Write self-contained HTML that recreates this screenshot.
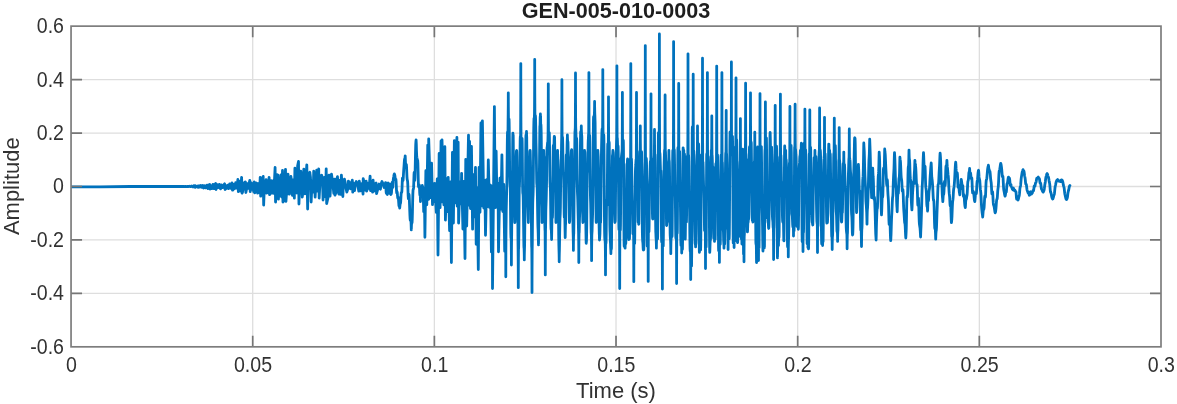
<!DOCTYPE html>
<html lang="en"><head><meta charset="utf-8"><title>GEN-005-010-0003</title>
<style>html,body{margin:0;padding:0;background:#fff}svg{display:block}</style></head>
<body>
<svg width="1177" height="404" viewBox="0 0 1177 404">
<rect width="1177" height="404" fill="#fff"/>
<path d="M252.71 26.14V346.83M71.05 79.59H1161.00M434.37 26.14V346.83M71.05 133.04H1161.00M616.02 26.14V346.83M71.05 186.49H1161.00M797.68 26.14V346.83M71.05 239.93H1161.00M979.34 26.14V346.83M71.05 293.38H1161.00" stroke="#dedede" stroke-width="1.30" fill="none"/>
<clipPath id="c"><rect x="71.05" y="26.14" width="1089.95" height="320.69"/></clipPath>
<path clip-path="url(#c)" d="M71.35 186.88 L100.00 186.78 L130.00 186.48 L184.00 186.48 L184.00 186.44 L184.83 186.54 L185.61 186.35 L186.54 186.56 L187.55 186.36 L188.52 186.62 L189.31 186.21 L190.47 186.69 L191.34 186.05 L192.56 186.91 L193.51 185.79 L194.28 187.12 L194.90 185.60 L195.35 187.30 L195.98 186.98 L197.14 186.01 L198.18 187.34 L199.12 185.69 L199.90 187.03 L200.75 185.50 L201.72 187.34 L202.76 185.57 L203.66 187.96 L204.76 185.67 L205.80 187.85 L206.98 185.08 L207.88 188.61 L208.69 185.32 L209.70 184.40 L210.15 189.10 L210.81 185.64 L211.89 188.61 L212.93 184.30 L213.84 188.61 L214.89 184.50 L215.60 183.40 L216.05 189.50 L217.09 184.64 L218.17 187.64 L219.27 184.42 L220.52 188.90 L221.41 184.90 L222.49 187.58 L223.47 185.27 L224.60 183.80 L225.05 189.50 L226.29 188.28 L227.47 185.29 L228.45 188.69 L229.64 183.84 L230.82 188.30 L232.00 182.90 L232.45 190.20 L232.97 189.96 L233.80 184.41 L234.66 188.59 L235.66 182.61 L236.54 188.20 L237.50 182.70 L237.90 179.40 L238.35 191.70 L239.63 181.41 L240.68 191.06 L241.60 177.40 L242.05 193.20 L242.60 191.91 L243.75 182.79 L244.70 188.99 L245.40 181.90 L245.85 192.50 L246.55 189.18 L247.38 183.66 L248.16 188.42 L248.98 184.13 L249.80 180.40 L250.25 191.70 L251.10 182.60 L251.93 189.31 L252.85 183.70 L253.66 191.59 L254.30 181.90 L254.75 192.90 L255.90 189.39 L256.70 183.03 L257.58 193.14 L258.42 183.68 L259.64 192.51 L260.20 177.40 L260.65 196.20 L261.23 194.66 L262.47 178.37 L263.20 176.40 L263.65 205.10 L264.50 182.68 L265.63 192.03 L266.10 179.70 L266.55 193.20 L267.64 192.44 L269.10 177.40 L269.55 194.70 L270.03 193.98 L271.15 180.57 L272.16 193.03 L272.92 180.86 L273.81 193.39 L275.10 167.50 L275.55 202.10 L277.13 174.58 L278.00 175.20 L278.45 199.20 L278.92 180.87 L279.78 196.09 L280.98 174.79 L281.97 197.31 L282.50 170.50 L282.95 202.10 L284.20 199.43 L285.50 169.30 L285.95 201.40 L287.47 179.34 L288.00 174.10 L288.62 193.92 L289.45 194.10 L290.90 176.40 L291.63 181.62 L292.45 195.33 L293.61 179.76 L294.35 198.10 L294.90 168.20 L295.85 175.59 L296.87 193.00 L297.63 165.76 L298.50 161.40 L298.95 204.00 L299.92 175.28 L300.80 171.20 L302.25 197.10 L302.86 192.73 L303.80 169.20 L304.86 193.81 L306.07 175.26 L306.80 164.80 L307.65 209.00 L308.25 175.95 L309.80 172.20 L310.47 177.26 L311.15 202.00 L312.07 181.25 L313.22 192.01 L313.70 171.20 L314.21 174.91 L315.15 197.10 L316.25 175.91 L316.70 170.20 L317.39 191.09 L318.70 168.80 L319.15 198.10 L320.31 177.14 L321.60 175.10 L322.41 177.90 L323.05 200.00 L324.51 177.28 L325.53 196.56 L326.20 168.80 L326.65 203.60 L327.94 198.02 L329.00 175.10 L330.05 196.10 L330.86 181.43 L331.50 174.10 L332.70 182.43 L333.78 193.33 L334.50 179.10 L334.95 195.10 L336.09 192.35 L336.91 178.70 L337.50 176.70 L338.15 190.11 L338.95 194.10 L339.37 180.48 L340.37 194.32 L341.40 175.10 L342.85 196.50 L343.42 182.51 L344.40 179.10 L345.09 181.87 L346.06 188.64 L346.85 192.10 L347.98 188.65 L348.40 181.10 L349.22 182.10 L350.46 188.77 L351.34 184.20 L352.30 180.10 L352.75 192.10 L353.29 182.97 L354.50 190.69 L355.38 184.19 L356.30 181.50 L357.69 184.42 L358.75 191.10 L359.30 181.10 L360.65 190.86 L361.80 183.74 L363.05 194.10 L363.20 178.70 L364.16 182.28 L365.08 190.11 L366.20 181.10 L366.65 191.10 L367.11 189.54 L367.98 183.34 L368.81 188.40 L369.66 181.36 L370.10 176.10 L370.56 190.60 L371.46 181.12 L372.55 192.10 L373.10 180.10 L373.81 191.23 L374.84 184.35 L376.10 183.00 L376.55 193.70 L377.59 189.90 L379.10 184.00 L379.76 188.66 L380.45 189.20 L381.01 184.26 L382.00 181.50 L383.24 184.07 L384.16 187.52 L384.98 185.27 L385.16 185.65 L385.34 184.73 L385.52 182.67 L385.71 182.71 L385.89 186.34 L386.07 190.79 L386.25 192.99 L386.44 193.27 L386.62 193.45 L386.80 193.80 L387.00 193.52 L387.20 193.87 L387.40 194.46 L387.60 192.73 L387.80 187.90 L388.00 183.51 L388.20 182.99 L388.40 184.86 L388.60 185.53 L388.80 184.58 L389.00 183.90 L389.19 184.26 L389.38 183.95 L389.57 184.24 L389.76 187.19 L389.95 191.42 L390.14 193.61 L390.33 193.44 L390.52 193.28 L390.71 193.96 L390.90 194.50 L391.09 194.10 L391.28 193.75 L391.47 192.83 L391.66 190.23 L391.84 186.14 L392.03 182.73 L392.22 182.33 L392.41 184.84 L392.60 187.43 L392.79 187.32 L392.98 184.42 L393.17 180.93 L393.36 178.72 L393.54 177.68 L393.73 176.70 L393.92 175.44 L394.11 174.42 L394.30 173.90 L394.50 174.36 L394.70 174.86 L394.90 175.79 L395.10 177.42 L395.30 179.15 L395.50 179.87 L395.70 179.44 L395.90 179.31 L396.10 181.44 L396.30 185.87 L396.50 190.47 L396.70 192.86 L396.90 192.63 L397.10 191.86 L397.30 192.79 L397.50 195.37 L397.70 197.65 L397.90 198.14 L398.10 197.42 L398.30 197.43 L398.50 199.43 L398.70 202.70 L398.90 205.36 L399.10 206.30 L399.30 206.34 L399.50 206.79 L399.70 208.10 L399.90 206.13 L400.09 204.42 L400.29 203.58 L400.49 203.29 L400.68 201.58 L400.88 198.19 L401.07 194.62 L401.27 192.65 L401.47 192.41 L401.66 192.53 L401.86 191.23 L402.06 187.38 L402.25 181.89 L402.45 178.10 L402.65 178.12 L402.84 180.01 L403.04 180.40 L403.24 178.21 L403.43 174.66 L403.63 171.21 L403.82 168.52 L404.02 166.06 L404.22 163.16 L404.41 160.32 L404.61 158.95 L404.81 159.11 L405.00 158.64 L405.20 155.90 L405.40 160.43 L405.59 164.96 L405.79 167.38 L405.99 166.17 L406.18 164.42 L406.38 164.51 L406.58 167.45 L406.77 172.37 L406.97 176.87 L407.17 179.30 L407.36 180.11 L407.56 180.97 L407.76 183.81 L407.95 189.44 L408.15 195.77 L408.35 198.73 L408.55 197.49 L408.74 195.09 L408.94 194.13 L409.14 195.29 L409.33 199.11 L409.53 204.60 L409.73 210.19 L409.92 215.08 L410.12 218.72 L410.32 220.24 L410.51 219.11 L410.71 217.21 L410.91 219.24 L411.10 224.29 L411.30 229.90 L411.49 224.78 L411.68 222.71 L411.88 222.99 L412.07 222.63 L412.26 219.25 L412.45 212.06 L412.64 202.49 L412.84 194.40 L413.03 190.37 L413.22 189.33 L413.41 189.17 L413.60 187.38 L413.80 181.84 L413.99 175.10 L414.18 172.47 L414.37 174.67 L414.56 178.45 L414.76 180.33 L414.95 177.75 L415.14 170.64 L415.33 161.29 L415.52 152.23 L415.72 144.91 L415.91 141.66 L416.10 139.80 L416.30 143.77 L416.50 150.95 L416.70 155.83 L416.90 157.41 L417.10 158.47 L417.30 159.46 L417.50 159.94 L417.70 160.45 L417.90 163.61 L418.10 171.68 L418.30 181.53 L418.50 186.31 L418.70 186.94 L418.90 187.25 L419.10 186.07 L419.30 184.77 L419.50 187.60 L419.70 192.94 L419.90 195.01 L420.10 193.81 L420.30 195.64 L420.50 201.60 L420.68 188.47 L420.86 189.53 L421.04 193.20 L421.22 196.69 L421.40 196.13 L421.58 191.34 L421.76 187.36 L421.94 186.51 L422.12 186.37 L422.30 185.40 L422.50 186.97 L422.70 186.75 L422.90 188.23 L423.10 190.66 L423.30 195.15 L423.50 204.05 L423.70 211.60 L423.90 211.61 L424.10 205.85 L424.30 201.36 L424.50 203.41 L424.70 218.39 L424.90 237.30 L425.85 170.70 L426.80 204.81 L427.75 145.10 L428.70 199.28 L428.70 138.90 L430.60 197.68 L431.55 163.13 L432.50 204.60 L433.45 184.59 L434.40 201.60 L434.60 183.40 L436.30 212.35 L437.25 178.79 L438.00 255.00 L439.15 153.50 L440.10 207.67 L441.05 141.00 L442.00 201.95 L442.00 139.80 L443.90 204.87 L444.85 146.76 L445.40 220.10 L446.75 178.82 L447.70 211.60 L448.20 177.40 L449.60 230.60 L450.55 181.90 L451.40 262.60 L452.45 152.36 L453.40 223.04 L454.35 140.60 L455.30 202.90 L456.90 137.50 L457.20 206.20 L458.15 142.24 L458.60 223.10 L460.05 182.20 L461.00 203.74 L461.60 173.40 L462.90 229.03 L463.85 181.48 L465.00 258.60 L465.75 159.33 L466.70 226.02 L468.50 135.20 L468.60 205.00 L469.55 141.35 L470.50 208.60 L471.45 146.33 L472.60 229.20 L473.35 174.68 L474.30 216.92 L475.50 167.40 L476.20 244.28 L477.15 187.98 L478.30 269.50 L479.05 167.40 L480.00 212.24 L480.95 122.98 L481.90 205.78 L482.40 120.80 L483.80 208.10 L484.75 180.40 L485.50 235.30 L486.65 179.73 L487.60 206.60 L488.30 160.00 L489.50 207.40 L490.45 185.25 L491.40 251.92 L492.35 186.02 L492.50 288.50 L494.40 106.60 L495.20 207.68 L496.15 151.22 L497.10 207.14 L498.05 183.40 L498.50 251.80 L499.95 178.21 L500.90 209.16 L501.90 154.80 L502.80 211.60 L503.75 184.52 L504.70 251.29 L504.71 247.39 L504.75 243.49 L504.82 239.59 L504.92 235.68 L505.03 232.35 L505.14 228.45 L505.25 225.08 L505.36 225.49 L505.47 225.17 L505.58 229.39 L505.62 234.14 L505.66 238.88 L505.69 243.62 L505.72 248.36 L505.75 253.10 L505.76 257.84 L505.78 262.58 L505.79 267.32 L505.80 272.06 L505.80 276.80 L505.80 272.06 L505.81 267.32 L505.82 262.58 L505.84 257.84 L505.86 253.10 L505.88 248.36 L505.91 243.62 L505.94 238.88 L505.98 234.14 L506.02 229.39 L506.09 224.17 L506.17 218.12 L506.24 210.38 L506.31 206.96 L506.39 203.40 L506.46 199.91 L506.54 196.77 L506.61 194.04 L506.68 191.48 L506.76 188.66 L506.83 185.20 L506.90 180.75 L506.98 175.11 L507.05 168.36 L507.12 160.90 L507.20 153.26 L507.27 146.07 L507.34 139.94 L507.42 135.40 L507.49 132.76 L507.56 132.00 L507.64 132.80 L507.71 135.13 L507.79 139.44 L507.86 142.79 L507.93 137.34 L508.01 129.74 L508.08 121.01 L508.15 116.31 L508.20 111.61 L508.25 106.91 L508.28 102.20 L508.29 97.50 L508.30 92.80 L508.31 97.50 L508.32 102.20 L508.36 106.91 L508.40 111.61 L508.45 116.31 L508.52 121.01 L508.61 124.30 L508.70 125.26 L508.79 124.17 L508.87 121.58 L508.96 119.33 L509.05 119.07 L509.14 122.10 L509.23 127.23 L509.32 134.38 L509.41 143.10 L509.50 152.60 L509.58 161.85 L509.67 169.94 L509.76 176.24 L509.85 180.66 L509.94 183.49 L510.03 185.13 L510.12 185.83 L510.20 186.21 L510.29 188.60 L510.38 195.38 L510.47 205.19 L510.56 215.14 L510.65 223.55 L510.74 229.80 L510.83 233.99 L510.91 236.55 L511.00 238.20 L511.09 237.92 L511.18 238.22 L511.25 242.70 L511.30 247.18 L511.34 251.66 L511.38 256.14 L511.39 260.62 L511.40 265.10 L511.41 260.62 L511.42 256.14 L511.45 251.66 L511.50 247.18 L511.55 242.70 L511.62 238.22 L511.68 232.72 L511.74 225.11 L511.80 216.15 L511.86 211.50 L511.92 207.07 L511.98 203.12 L512.05 199.77 L512.11 196.97 L512.17 194.53 L512.23 192.28 L512.29 190.04 L512.35 187.30 L512.41 182.93 L512.47 176.01 L512.53 167.21 L512.59 158.07 L512.65 149.74 L512.71 142.90 L512.77 137.84 L512.84 134.60 L512.90 133.03 L512.96 134.87 L513.02 137.46 L513.08 138.61 L513.14 137.82 L513.20 135.00 L513.28 141.04 L513.35 150.07 L513.43 156.50 L513.51 159.94 L513.59 165.11 L513.66 169.87 L513.74 173.44 L513.82 175.71 L513.90 177.01 L513.97 177.96 L514.05 179.16 L514.13 180.89 L514.20 183.06 L514.28 186.39 L514.36 192.79 L514.44 201.54 L514.51 209.81 L514.59 215.99 L514.67 219.87 L514.75 221.95 L514.82 222.52 L514.90 222.48 L514.99 221.04 L515.08 215.64 L515.17 209.87 L515.26 202.32 L515.35 193.99 L515.44 188.01 L515.53 184.85 L515.62 180.75 L515.71 175.98 L515.79 172.16 L515.88 169.37 L515.97 166.82 L516.06 163.72 L516.15 159.82 L516.24 155.49 L516.33 152.77 L516.42 151.40 L516.51 150.54 L516.60 150.48 L516.66 150.51 L516.72 150.84 L516.78 151.75 L516.84 153.01 L516.90 155.85 L516.96 161.85 L517.01 169.19 L517.07 177.01 L517.13 183.43 L517.19 186.51 L517.25 187.58 L517.31 189.57 L517.37 192.75 L517.43 196.10 L517.49 199.05 L517.55 201.60 L517.61 204.07 L517.67 206.88 L517.72 210.40 L517.78 214.83 L517.84 220.12 L517.90 225.96 L517.96 235.66 L518.02 243.81 L518.08 248.70 L518.13 253.58 L518.18 258.45 L518.21 263.33 L518.25 268.20 L518.27 273.08 L518.29 277.95 L518.30 282.83 L518.30 287.70 L518.30 282.83 L518.31 277.95 L518.33 273.08 L518.35 268.20 L518.39 263.33 L518.42 258.45 L518.47 253.58 L518.52 248.70 L518.59 248.51 L518.66 247.20 L518.73 242.41 L518.80 237.21 L518.88 231.30 L518.95 224.40 L519.02 216.48 L519.09 207.74 L519.16 198.87 L519.23 191.32 L519.30 187.10 L519.37 186.46 L519.44 186.26 L519.51 184.26 L519.59 180.87 L519.66 176.99 L519.73 172.93 L519.80 168.64 L519.87 163.93 L519.94 158.71 L520.01 153.10 L520.08 147.41 L520.15 142.06 L520.22 138.62 L520.30 137.17 L520.37 136.38 L520.44 136.22 L520.51 136.32 L520.58 136.18 L520.61 131.34 L520.63 126.50 L520.66 121.67 L520.68 116.83 L520.70 111.99 L520.72 107.15 L520.74 102.31 L520.75 97.47 L520.76 92.63 L520.78 87.79 L520.78 82.96 L520.79 78.12 L520.80 73.28 L520.80 68.44 L520.80 63.60 L520.80 68.44 L520.80 73.28 L520.81 78.12 L520.82 82.96 L520.82 87.79 L520.84 92.63 L520.85 97.47 L520.86 102.31 L520.88 107.15 L520.90 111.99 L520.92 116.83 L520.94 121.67 L520.97 126.50 L520.99 131.34 L521.02 136.18 L521.13 140.40 L521.23 146.20 L521.34 152.70 L521.44 154.22 L521.55 153.00 L521.65 150.50 L521.76 147.14 L521.86 142.80 L521.97 139.24 L522.08 138.43 L522.18 141.88 L522.29 150.10 L522.39 162.31 L522.50 176.00 L522.60 186.41 L522.71 191.36 L522.81 193.19 L522.92 193.73 L523.02 194.32 L523.13 196.25 L523.24 200.34 L523.34 206.67 L523.45 214.56 L523.55 222.94 L523.66 230.87 L523.76 238.16 L523.87 245.33 L523.97 247.74 L524.08 248.32 L524.20 252.18 L524.28 256.04 L524.30 259.90 L524.32 256.04 L524.40 252.18 L524.52 248.32 L524.58 246.35 L524.65 242.55 L524.71 235.26 L524.77 229.53 L524.83 223.86 L524.90 218.57 L524.96 213.89 L525.02 209.84 L525.09 206.26 L525.15 202.82 L525.21 199.23 L525.27 195.37 L525.34 191.48 L525.40 187.83 L525.46 183.57 L525.53 177.07 L525.59 168.62 L525.65 159.78 L525.71 151.76 L525.78 145.13 L525.84 140.08 L525.90 136.51 L525.97 134.94 L526.03 135.70 L526.09 136.54 L526.15 137.27 L526.22 137.64 L526.28 137.43 L526.40 135.42 L526.48 133.41 L526.50 131.40 L526.52 133.41 L526.60 135.42 L526.72 137.43 L526.79 145.01 L526.87 154.27 L526.94 158.90 L527.01 159.58 L527.09 161.66 L527.16 164.21 L527.23 167.20 L527.31 170.88 L527.38 175.14 L527.45 179.31 L527.53 182.76 L527.60 186.35 L527.67 191.49 L527.75 197.43 L527.82 202.73 L527.89 206.89 L527.97 210.17 L528.04 213.00 L528.11 215.59 L528.19 218.17 L528.26 220.52 L528.33 222.48 L528.43 217.63 L528.53 207.09 L528.62 199.42 L528.72 193.67 L528.82 190.62 L528.91 189.78 L529.01 190.21 L529.11 190.94 L529.20 190.84 L529.30 188.99 L529.39 184.60 L529.49 176.84 L529.59 167.32 L529.68 158.94 L529.78 153.05 L529.88 151.00 L529.97 151.00 L530.07 151.09 L530.17 150.48 L530.23 151.86 L530.30 154.40 L530.36 157.50 L530.42 159.50 L530.49 161.82 L530.55 165.71 L530.62 169.13 L530.68 171.93 L530.75 174.18 L530.81 176.16 L530.88 178.23 L530.94 180.61 L531.01 183.16 L531.07 185.28 L531.13 187.21 L531.20 191.63 L531.26 199.99 L531.33 210.32 L531.39 220.47 L531.46 229.32 L531.52 236.47 L531.59 241.90 L531.65 246.13 L531.72 247.37 L531.78 247.30 L531.82 251.83 L531.86 256.36 L531.89 260.89 L531.92 265.42 L531.95 269.95 L531.96 274.48 L531.98 279.01 L531.99 283.54 L532.00 288.07 L532.00 292.60 L532.00 288.07 L532.01 283.54 L532.02 279.01 L532.04 274.48 L532.05 269.95 L532.08 265.42 L532.11 260.89 L532.14 256.36 L532.18 251.83 L532.22 247.30 L532.29 243.86 L532.35 238.90 L532.42 230.51 L532.49 221.79 L532.55 216.17 L532.62 211.02 L532.69 206.64 L532.75 203.21 L532.82 200.69 L532.88 198.88 L532.95 197.45 L533.02 196.01 L533.08 194.26 L533.15 192.04 L533.22 189.12 L533.28 184.59 L533.35 177.24 L533.42 167.59 L533.48 157.37 L533.55 147.86 L533.62 139.67 L533.68 133.05 L533.75 127.98 L533.82 124.27 L533.88 121.65 L533.95 119.78 L534.01 118.38 L534.08 118.50 L534.15 119.77 L534.21 120.78 L534.28 120.18 L534.35 118.34 L534.41 115.99 L534.48 113.25 L534.52 108.36 L534.55 103.48 L534.58 98.59 L534.61 93.70 L534.63 88.82 L534.65 83.93 L534.67 79.05 L534.68 74.16 L534.69 69.27 L534.70 64.39 L534.70 59.50 L534.70 64.39 L534.71 69.27 L534.72 74.16 L534.73 79.05 L534.75 83.93 L534.77 88.82 L534.79 93.70 L534.82 98.59 L534.85 103.48 L534.88 108.36 L534.92 113.25 L535.03 115.23 L535.14 115.93 L535.25 115.81 L535.35 115.49 L535.46 116.24 L535.57 118.65 L535.68 124.08 L535.79 130.88 L535.90 137.30 L536.00 142.83 L536.11 147.64 L536.22 152.42 L536.33 157.94 L536.44 164.62 L536.55 172.02 L536.66 178.80 L536.76 183.11 L536.87 184.57 L536.98 185.24 L537.09 186.80 L537.20 189.44 L537.31 193.35 L537.42 198.86 L537.52 205.64 L537.63 212.68 L537.74 219.03 L537.85 224.04 L537.96 227.41 L538.07 229.36 L538.17 232.57 L538.28 237.35 L538.39 240.92 L538.50 244.90 L538.55 241.15 L538.61 237.86 L538.66 232.53 L538.71 228.15 L538.76 224.37 L538.81 219.86 L538.87 214.81 L538.92 209.51 L538.97 204.27 L539.02 199.33 L539.08 194.76 L539.13 190.53 L539.18 186.56 L539.24 182.80 L539.29 179.15 L539.34 175.41 L539.39 171.42 L539.44 166.99 L539.50 162.05 L539.55 156.62 L539.60 150.82 L539.65 144.87 L539.71 139.09 L539.76 133.79 L539.81 129.26 L539.87 126.08 L539.92 125.97 L539.97 126.39 L540.02 126.00 L540.07 123.90 L540.13 121.17 L540.18 117.75 L540.30 116.50 L540.38 115.25 L540.40 114.00 L540.42 115.25 L540.50 116.50 L540.62 117.75 L540.67 122.02 L540.72 125.43 L540.78 127.56 L540.83 126.08 L540.88 124.37 L540.93 124.67 L540.99 125.65 L541.04 126.80 L541.09 128.19 L541.14 129.98 L541.20 132.41 L541.25 135.82 L541.30 140.47 L541.35 146.59 L541.41 154.21 L541.46 163.12 L541.51 172.67 L541.56 181.58 L541.61 188.64 L541.67 194.14 L541.72 198.80 L541.77 202.58 L541.82 205.29 L541.88 206.95 L541.93 212.46 L541.98 217.05 L542.03 222.48 L542.12 214.02 L542.21 204.81 L542.29 203.89 L542.38 202.76 L542.46 199.88 L542.55 195.25 L542.64 190.24 L542.72 184.58 L542.81 175.83 L542.89 166.50 L542.98 159.51 L543.06 155.29 L543.15 153.04 L543.24 151.76 L543.32 150.82 L543.41 151.60 L543.49 152.92 L543.58 152.37 L543.67 150.48 L543.74 153.33 L543.81 156.57 L543.88 156.73 L543.95 156.08 L544.02 157.94 L544.09 160.98 L544.16 165.69 L544.23 172.04 L544.30 179.01 L544.37 184.97 L544.44 190.90 L544.51 198.75 L544.59 206.93 L544.66 213.76 L544.73 218.86 L544.80 222.65 L544.87 225.73 L544.94 228.60 L545.01 230.33 L545.08 230.30 L545.13 235.25 L545.17 240.21 L545.20 245.17 L545.23 250.12 L545.26 255.08 L545.28 260.03 L545.29 264.99 L545.30 269.94 L545.30 274.90 L545.30 269.94 L545.31 264.99 L545.32 260.03 L545.34 255.08 L545.37 250.12 L545.40 245.17 L545.43 240.21 L545.47 235.25 L545.52 230.30 L545.62 226.29 L545.72 219.50 L545.83 211.21 L545.93 207.47 L546.03 204.60 L546.13 201.79 L546.24 198.15 L546.34 193.61 L546.44 189.38 L546.54 184.19 L546.65 174.07 L546.75 162.75 L546.85 154.32 L546.95 149.58 L547.06 147.64 L547.16 147.04 L547.26 146.53 L547.36 145.50 L547.47 144.02 L547.57 142.57 L547.67 143.46 L547.77 144.64 L547.88 142.15 L547.98 137.71 L548.08 133.28 L548.12 128.33 L548.16 123.38 L548.19 118.44 L548.22 113.49 L548.25 108.54 L548.26 103.59 L548.28 98.64 L548.29 93.70 L548.30 88.75 L548.30 83.80 L548.30 88.75 L548.31 93.70 L548.32 98.64 L548.34 103.59 L548.35 108.54 L548.38 113.49 L548.41 118.44 L548.44 123.38 L548.48 128.33 L548.52 133.28 L548.63 134.19 L548.75 134.81 L548.86 135.02 L548.98 134.47 L549.09 132.74 L549.20 132.46 L549.32 133.74 L549.43 137.50 L549.55 144.66 L549.66 154.92 L549.77 166.46 L549.89 176.35 L550.00 182.11 L550.12 184.41 L550.23 185.76 L550.35 187.86 L550.46 192.08 L550.57 199.31 L550.69 208.69 L550.80 217.86 L550.92 224.80 L551.03 228.61 L551.14 229.51 L551.26 228.59 L551.37 231.10 L551.49 234.25 L551.60 239.50 L551.70 233.14 L551.81 226.55 L551.91 219.62 L552.02 217.72 L552.12 216.71 L552.22 216.78 L552.33 217.47 L552.43 217.55 L552.53 215.32 L552.64 209.30 L552.74 198.99 L552.85 185.76 L552.95 172.44 L553.05 160.64 L553.16 151.81 L553.26 146.83 L553.37 145.34 L553.47 145.98 L553.57 147.04 L553.68 147.20 L553.78 145.99 L553.88 145.76 L553.99 144.31 L554.09 140.75 L554.20 137.85 L554.30 136.30 L554.37 136.94 L554.45 136.92 L554.52 136.79 L554.60 137.57 L554.67 141.95 L554.75 149.46 L554.82 159.04 L554.89 169.57 L554.97 178.99 L555.04 185.27 L555.12 188.38 L555.19 189.44 L555.27 189.32 L555.34 188.76 L555.41 188.36 L555.49 188.62 L555.56 190.12 L555.64 193.48 L555.71 198.65 L555.78 206.91 L555.86 216.39 L555.93 222.48 L556.02 217.74 L556.11 213.31 L556.19 211.46 L556.28 209.83 L556.36 208.26 L556.45 206.08 L556.54 202.29 L556.62 196.30 L556.71 188.69 L556.79 181.08 L556.88 174.34 L556.96 168.74 L557.05 164.73 L557.14 162.30 L557.22 160.90 L557.31 161.29 L557.39 161.21 L557.48 155.70 L557.57 150.48 L557.62 153.96 L557.68 157.22 L557.74 159.35 L557.79 159.51 L557.85 159.78 L557.91 162.20 L557.96 164.52 L558.02 166.64 L558.08 168.65 L558.13 170.84 L558.19 173.58 L558.25 177.30 L558.30 182.34 L558.36 188.83 L558.41 196.57 L558.47 205.05 L558.53 213.69 L558.58 221.91 L558.64 229.16 L558.70 235.08 L558.75 239.47 L558.81 242.42 L558.87 245.57 L558.92 247.31 L558.98 249.63 L559.10 253.69 L559.18 257.74 L559.20 261.80 L559.22 257.74 L559.30 253.69 L559.42 249.63 L559.50 244.99 L559.58 240.39 L559.66 233.30 L559.74 229.40 L559.82 225.36 L559.90 221.65 L559.99 218.70 L560.07 216.63 L560.15 215.16 L560.23 213.63 L560.31 211.23 L560.39 207.18 L560.47 201.19 L560.55 193.83 L560.63 186.71 L560.71 180.96 L560.79 175.91 L560.87 171.10 L560.95 166.83 L561.03 163.25 L561.12 160.16 L561.20 157.19 L561.28 155.21 L561.36 153.85 L561.44 151.65 L561.52 145.73 L561.60 141.00 L561.68 137.84 L561.72 133.00 L561.75 128.15 L561.78 123.31 L561.80 118.46 L561.83 113.62 L561.85 108.77 L561.86 103.93 L561.88 99.08 L561.89 94.24 L561.89 89.39 L561.90 84.55 L561.90 79.70 L561.90 84.55 L561.91 89.39 L561.91 94.24 L561.92 99.08 L561.94 103.93 L561.95 108.77 L561.97 113.62 L562.00 118.46 L562.02 123.31 L562.05 128.15 L562.08 133.00 L562.12 137.84 L562.24 137.45 L562.37 136.81 L562.49 137.20 L562.61 139.16 L562.74 143.77 L562.86 152.80 L562.98 161.99 L563.11 168.91 L563.23 172.44 L563.35 173.31 L563.48 173.39 L563.60 174.91 L563.72 179.47 L563.84 187.63 L563.97 198.51 L564.09 208.56 L564.21 214.91 L564.34 217.31 L564.46 217.21 L564.58 216.56 L564.71 216.77 L564.83 218.21 L564.95 224.56 L565.08 231.35 L565.20 237.60 L565.28 232.43 L565.36 228.60 L565.44 225.32 L565.52 224.75 L565.60 223.15 L565.68 219.71 L565.75 213.83 L565.83 205.33 L565.91 194.59 L565.99 182.65 L566.07 171.50 L566.15 162.78 L566.23 157.24 L566.31 154.90 L566.39 155.10 L566.47 156.71 L566.55 158.41 L566.63 159.17 L566.70 158.41 L566.78 156.15 L566.86 154.92 L566.94 153.05 L567.02 148.83 L567.10 144.38 L567.18 141.08 L567.30 139.06 L567.38 137.03 L567.40 135.00 L567.42 137.03 L567.50 139.06 L567.62 141.08 L567.70 141.40 L567.79 141.37 L567.87 141.56 L567.96 142.30 L568.04 145.87 L568.13 150.07 L568.21 153.77 L568.30 156.55 L568.38 158.61 L568.47 160.82 L568.55 164.33 L568.64 169.95 L568.72 177.31 L568.81 183.85 L568.89 187.76 L568.98 193.24 L569.06 200.94 L569.15 207.99 L569.23 214.28 L569.32 219.69 L569.40 222.48 L569.51 221.62 L569.61 221.83 L569.72 220.66 L569.82 216.21 L569.93 208.06 L570.03 197.84 L570.14 189.07 L570.24 184.08 L570.35 182.15 L570.45 181.72 L570.56 181.26 L570.66 179.45 L570.77 175.26 L570.87 168.85 L570.98 161.84 L571.08 157.67 L571.19 155.20 L571.29 151.99 L571.40 150.48 L571.48 150.68 L571.57 150.05 L571.65 149.65 L571.74 150.45 L571.82 155.23 L571.91 161.97 L571.99 169.08 L572.08 175.18 L572.16 179.44 L572.25 181.98 L572.33 183.63 L572.42 185.36 L572.50 187.83 L572.59 191.59 L572.67 197.46 L572.76 205.46 L572.84 214.01 L572.93 221.41 L573.01 227.61 L573.10 232.01 L573.18 234.08 L573.28 238.16 L573.35 242.24 L573.39 246.32 L573.40 250.40 L573.41 246.32 L573.45 242.24 L573.52 238.16 L573.62 234.08 L573.68 234.17 L573.74 234.02 L573.80 230.20 L573.87 225.07 L573.93 218.51 L573.99 210.82 L574.05 202.68 L574.11 195.19 L574.17 189.58 L574.23 186.17 L574.30 183.84 L574.36 181.39 L574.42 178.26 L574.48 174.31 L574.54 169.52 L574.60 163.94 L574.67 157.77 L574.73 151.34 L574.79 145.06 L574.85 139.37 L574.91 134.57 L574.97 131.72 L575.03 131.21 L575.10 130.94 L575.16 129.54 L575.22 128.60 L575.28 127.98 L575.32 123.39 L575.35 118.80 L575.38 114.21 L575.40 109.62 L575.43 105.03 L575.45 100.44 L575.46 95.85 L575.48 91.26 L575.49 86.67 L575.49 82.08 L575.50 77.49 L575.50 72.90 L575.50 77.49 L575.51 82.08 L575.51 86.67 L575.52 91.26 L575.54 95.85 L575.55 100.44 L575.57 105.03 L575.60 109.62 L575.62 114.21 L575.65 118.80 L575.68 123.39 L575.72 127.98 L575.83 129.31 L575.93 132.46 L576.04 136.79 L576.14 139.02 L576.25 139.40 L576.36 139.28 L576.46 138.69 L576.57 138.05 L576.67 139.06 L576.78 143.04 L576.89 150.31 L576.99 159.95 L577.10 170.21 L577.20 179.49 L577.31 186.75 L577.41 191.47 L577.52 194.22 L577.63 196.35 L577.73 198.99 L577.84 202.62 L577.94 207.09 L578.05 211.86 L578.16 216.18 L578.26 219.59 L578.37 225.58 L578.47 229.50 L578.58 233.41 L578.65 238.28 L578.70 243.14 L578.75 248.01 L578.78 252.87 L578.79 257.74 L578.80 262.60 L578.81 257.74 L578.82 252.87 L578.85 248.01 L578.90 243.14 L578.95 238.28 L579.02 233.41 L579.10 232.77 L579.18 232.43 L579.26 229.27 L579.34 225.62 L579.42 222.09 L579.50 219.19 L579.57 217.02 L579.65 215.16 L579.73 212.79 L579.81 208.93 L579.89 202.97 L579.97 195.37 L580.05 188.53 L580.13 183.18 L580.21 174.22 L580.29 162.44 L580.37 151.42 L580.45 142.77 L580.53 136.82 L580.60 133.23 L580.68 131.68 L580.76 132.81 L580.84 133.59 L580.92 133.40 L581.00 133.14 L581.08 133.00 L581.20 130.67 L581.28 128.33 L581.30 126.00 L581.32 128.33 L581.40 130.67 L581.52 133.00 L581.58 133.84 L581.64 134.87 L581.70 135.43 L581.77 135.49 L581.83 137.30 L581.89 142.25 L581.95 149.19 L582.01 158.00 L582.07 167.98 L582.13 177.56 L582.20 184.99 L582.26 191.07 L582.32 197.21 L582.38 202.64 L582.44 206.63 L582.50 209.25 L582.56 211.01 L582.63 212.61 L582.69 214.56 L582.75 217.10 L582.81 220.46 L582.87 221.91 L582.93 222.48 L583.02 222.01 L583.11 219.13 L583.19 213.03 L583.28 206.03 L583.36 199.72 L583.45 195.13 L583.54 192.18 L583.62 189.98 L583.71 187.79 L583.79 185.49 L583.88 182.64 L583.96 177.81 L584.05 171.11 L584.14 164.50 L584.22 159.45 L584.31 157.97 L584.39 157.26 L584.48 153.37 L584.57 150.48 L584.63 151.70 L584.70 151.98 L584.77 151.72 L584.84 151.79 L584.91 153.33 L584.98 158.10 L585.04 163.71 L585.11 169.51 L585.18 174.87 L585.25 179.43 L585.32 183.20 L585.38 186.49 L585.45 189.78 L585.52 193.53 L585.59 198.24 L585.66 204.19 L585.72 211.15 L585.79 218.39 L585.86 225.09 L585.93 230.65 L586.00 234.84 L586.06 239.19 L586.13 241.37 L586.20 243.30 L586.29 242.12 L586.38 242.06 L586.47 240.36 L586.55 237.77 L586.64 232.99 L586.73 225.55 L586.82 215.61 L586.91 204.03 L587.00 192.33 L587.09 182.40 L587.17 175.51 L587.26 171.82 L587.35 170.74 L587.44 171.12 L587.53 171.65 L587.62 171.25 L587.71 169.25 L587.79 165.45 L587.88 160.20 L587.97 154.28 L588.06 148.52 L588.15 143.48 L588.24 140.80 L588.33 139.40 L588.41 137.87 L588.50 135.46 L588.59 133.94 L588.68 133.35 L588.71 128.68 L588.74 124.01 L588.77 119.33 L588.79 114.66 L588.82 109.99 L588.84 105.31 L588.85 100.64 L588.87 95.97 L588.88 91.29 L588.89 86.62 L588.89 81.95 L588.90 77.27 L588.90 72.60 L588.90 77.27 L588.91 81.95 L588.91 86.62 L588.92 91.29 L588.93 95.97 L588.95 100.64 L588.96 105.31 L588.98 109.99 L589.01 114.66 L589.03 119.33 L589.06 124.01 L589.09 128.68 L589.12 133.35 L589.21 135.05 L589.29 137.40 L589.38 139.16 L589.47 137.84 L589.55 135.48 L589.64 135.27 L589.73 137.25 L589.82 141.70 L589.90 148.86 L589.99 158.15 L590.08 168.17 L590.16 177.24 L590.25 184.73 L590.34 190.93 L590.42 195.58 L590.51 198.79 L590.60 201.42 L590.68 204.49 L590.77 208.61 L590.86 213.78 L590.95 219.46 L591.03 224.86 L591.12 229.24 L591.21 232.85 L591.29 233.97 L591.38 235.47 L591.45 239.68 L591.50 243.88 L591.55 248.09 L591.58 252.29 L591.59 256.50 L591.60 260.70 L591.61 256.50 L591.62 252.29 L591.65 248.09 L591.70 243.88 L591.75 239.68 L591.82 235.47 L591.90 233.65 L591.99 232.18 L592.07 231.14 L592.15 228.33 L592.23 225.52 L592.32 222.67 L592.40 220.06 L592.48 217.76 L592.56 215.46 L592.65 212.52 L592.73 208.06 L592.81 201.38 L592.89 192.52 L592.98 182.75 L593.06 172.01 L593.14 159.37 L593.22 146.34 L593.31 134.76 L593.39 125.81 L593.47 120.02 L593.55 117.19 L593.64 116.58 L593.72 117.13 L593.80 117.77 L593.88 118.98 L593.97 120.11 L594.05 119.75 L594.13 118.11 L594.21 116.06 L594.30 114.78 L594.38 114.35 L594.50 110.06 L594.58 105.78 L594.60 101.50 L594.62 105.78 L594.70 110.06 L594.82 114.35 L594.87 115.23 L594.92 116.59 L594.97 118.46 L595.02 119.72 L595.07 121.31 L595.12 123.28 L595.17 128.66 L595.22 134.97 L595.27 141.78 L595.32 148.72 L595.38 155.36 L595.43 161.36 L595.48 166.48 L595.53 170.69 L595.58 174.12 L595.63 177.06 L595.68 179.82 L595.73 182.75 L595.78 186.14 L595.83 190.26 L595.88 195.27 L595.93 201.10 L595.98 207.35 L596.03 213.43 L596.08 218.52 L596.13 220.67 L596.18 221.99 L596.23 222.48 L596.32 222.06 L596.41 221.72 L596.49 220.03 L596.58 217.98 L596.66 215.95 L596.75 212.77 L596.84 207.13 L596.92 198.70 L597.01 189.35 L597.09 181.05 L597.18 172.12 L597.26 163.70 L597.35 157.88 L597.44 154.99 L597.52 154.56 L597.61 156.35 L597.69 156.66 L597.78 153.24 L597.87 150.48 L597.94 151.92 L598.01 153.14 L598.08 154.14 L598.15 155.26 L598.22 156.36 L598.29 159.70 L598.36 163.57 L598.43 167.39 L598.51 171.38 L598.58 175.92 L598.65 181.20 L598.72 187.00 L598.79 193.21 L598.86 200.27 L598.93 208.07 L599.00 215.71 L599.07 222.31 L599.14 227.46 L599.22 231.22 L599.29 233.94 L599.36 234.90 L599.43 237.50 L599.50 240.00 L599.61 238.45 L599.72 237.06 L599.83 235.30 L599.94 233.45 L600.05 228.16 L600.16 223.56 L600.27 221.05 L600.38 220.93 L600.49 222.10 L600.60 222.42 L600.71 219.58 L600.82 212.22 L600.93 200.93 L601.04 189.10 L601.15 178.52 L601.26 167.28 L601.37 157.50 L601.48 150.30 L601.59 145.00 L601.70 140.37 L601.81 135.59 L601.92 132.12 L602.03 130.13 L602.14 128.90 L602.25 129.05 L602.36 129.97 L602.47 130.54 L602.58 129.76 L602.61 125.13 L602.64 120.50 L602.67 115.88 L602.69 111.25 L602.72 106.62 L602.74 101.99 L602.75 97.37 L602.77 92.74 L602.78 88.11 L602.79 83.48 L602.79 78.86 L602.80 74.23 L602.80 69.60 L602.80 74.23 L602.81 78.86 L602.81 83.48 L602.82 88.11 L602.83 92.74 L602.85 97.37 L602.86 101.99 L602.88 106.62 L602.91 111.25 L602.93 115.88 L602.96 120.50 L602.99 125.13 L603.02 129.76 L603.10 132.80 L603.18 135.97 L603.25 138.99 L603.33 139.60 L603.41 139.33 L603.49 137.97 L603.57 135.30 L603.64 135.00 L603.72 134.85 L603.80 135.74 L603.88 138.63 L603.96 144.35 L604.03 153.24 L604.11 165.03 L604.19 178.64 L604.27 192.28 L604.34 204.94 L604.42 216.02 L604.50 224.75 L604.58 230.90 L604.66 234.81 L604.73 237.16 L604.81 238.74 L604.89 240.15 L604.97 239.73 L605.05 239.38 L605.12 240.81 L605.20 242.36 L605.28 243.61 L605.34 248.08 L605.39 252.55 L605.43 257.02 L605.46 261.49 L605.48 265.96 L605.50 270.43 L605.50 274.90 L605.50 270.43 L605.52 265.96 L605.54 261.49 L605.57 257.02 L605.61 252.55 L605.66 248.08 L605.72 243.61 L605.82 243.61 L605.92 243.48 L606.03 242.34 L606.13 239.54 L606.23 232.86 L606.33 222.80 L606.44 212.66 L606.54 204.78 L606.64 200.68 L606.74 200.27 L606.85 202.33 L606.95 204.83 L607.05 205.22 L607.15 201.64 L607.26 194.10 L607.36 183.61 L607.46 169.93 L607.56 156.28 L607.67 146.87 L607.77 143.87 L607.87 143.69 L607.97 145.09 L608.08 146.51 L608.18 146.85 L608.28 146.02 L608.32 141.10 L608.36 136.18 L608.39 131.25 L608.42 126.33 L608.45 121.41 L608.46 116.49 L608.48 111.57 L608.49 106.64 L608.50 101.72 L608.50 96.80 L608.50 101.72 L608.51 106.64 L608.52 111.57 L608.54 116.49 L608.55 121.41 L608.58 126.33 L608.61 131.25 L608.64 136.18 L608.68 141.10 L608.72 146.02 L608.80 147.75 L608.87 148.62 L608.95 148.15 L609.02 145.81 L609.10 143.59 L609.17 142.25 L609.25 143.78 L609.32 150.65 L609.40 160.57 L609.47 172.78 L609.55 186.13 L609.62 199.29 L609.70 210.77 L609.78 219.59 L609.85 225.60 L609.93 229.26 L610.00 231.47 L610.08 233.25 L610.15 235.37 L610.23 238.19 L610.30 241.52 L610.38 241.90 L610.45 242.77 L610.53 244.71 L610.60 246.72 L610.68 248.48 L610.80 250.22 L610.88 251.96 L610.90 253.70 L610.92 251.96 L611.00 250.22 L611.12 248.48 L611.19 247.96 L611.26 248.24 L611.33 248.83 L611.40 248.95 L611.48 247.76 L611.55 241.48 L611.62 232.40 L611.69 221.81 L611.76 210.74 L611.83 200.30 L611.90 191.48 L611.97 184.63 L612.05 179.33 L612.12 174.86 L612.19 170.62 L612.26 166.23 L612.33 161.68 L612.40 157.27 L612.47 155.34 L612.54 154.96 L612.62 154.75 L612.69 154.81 L612.76 153.61 L612.83 152.01 L612.90 150.48 L613.01 151.58 L613.11 151.76 L613.22 152.57 L613.32 156.88 L613.43 164.68 L613.53 177.86 L613.64 190.61 L613.74 198.89 L613.85 201.36 L613.95 199.36 L614.06 196.16 L614.16 194.99 L614.27 197.51 L614.37 203.55 L614.48 210.94 L614.58 215.28 L614.69 218.55 L614.79 221.21 L614.90 222.48 L614.98 221.92 L615.06 221.68 L615.14 221.62 L615.22 220.98 L615.30 219.38 L615.39 212.34 L615.47 203.49 L615.55 194.19 L615.63 185.91 L615.71 179.57 L615.79 175.17 L615.87 172.04 L615.95 169.17 L616.03 165.60 L616.11 160.82 L616.19 155.13 L616.28 152.11 L616.36 148.50 L616.44 145.40 L616.52 142.61 L616.60 139.72 L616.68 137.72 L616.71 132.93 L616.73 128.13 L616.76 123.34 L616.78 118.54 L616.80 113.75 L616.82 108.95 L616.84 104.16 L616.85 99.36 L616.86 94.57 L616.88 89.77 L616.88 84.98 L616.89 80.18 L616.90 75.39 L616.90 70.59 L616.90 65.80 L616.90 70.59 L616.90 75.39 L616.91 80.18 L616.92 84.98 L616.92 89.77 L616.94 94.57 L616.95 99.36 L616.96 104.16 L616.98 108.95 L617.00 113.75 L617.02 118.54 L617.04 123.34 L617.07 128.13 L617.09 132.93 L617.12 137.72 L617.22 137.79 L617.33 138.51 L617.43 140.72 L617.53 143.99 L617.63 146.80 L617.74 147.32 L617.84 146.79 L617.94 146.34 L618.04 145.79 L618.15 147.42 L618.25 153.21 L618.35 163.73 L618.45 177.38 L618.56 191.78 L618.66 206.56 L618.76 218.97 L618.86 227.24 L618.97 229.60 L619.07 229.03 L619.17 228.50 L619.27 228.35 L619.38 228.46 L619.48 228.63 L619.52 233.62 L619.55 238.61 L619.58 243.60 L619.60 248.59 L619.63 253.58 L619.65 258.57 L619.66 263.56 L619.68 268.54 L619.69 273.53 L619.69 278.52 L619.70 283.51 L619.70 288.50 L619.70 283.51 L619.71 278.52 L619.71 273.53 L619.72 268.54 L619.74 263.56 L619.75 258.57 L619.77 253.58 L619.80 248.59 L619.82 243.60 L619.85 238.61 L619.88 233.62 L619.92 228.63 L620.03 228.00 L620.15 228.55 L620.26 230.29 L620.37 229.83 L620.49 225.06 L620.60 211.75 L620.71 194.69 L620.82 178.27 L620.94 165.60 L621.05 159.16 L621.16 157.85 L621.28 158.52 L621.39 158.25 L621.50 155.91 L621.62 155.09 L621.73 153.84 L621.84 152.86 L621.95 152.41 L622.07 150.67 L622.18 148.85 L622.22 144.15 L622.25 139.46 L622.28 134.76 L622.30 130.07 L622.33 125.37 L622.35 120.68 L622.36 115.98 L622.38 111.28 L622.39 106.59 L622.39 101.89 L622.40 97.20 L622.40 92.50 L622.40 97.20 L622.41 101.89 L622.41 106.59 L622.42 111.28 L622.44 115.98 L622.45 120.68 L622.47 125.37 L622.50 130.07 L622.52 134.76 L622.55 139.46 L622.58 144.15 L622.62 148.85 L622.71 149.43 L622.81 150.25 L622.90 150.79 L623.00 150.30 L623.09 148.17 L623.18 144.49 L623.28 140.30 L623.37 142.18 L623.47 149.41 L623.56 161.98 L623.66 178.44 L623.75 196.04 L623.84 213.95 L623.94 229.23 L624.03 239.67 L624.13 245.00 L624.22 246.34 L624.32 243.35 L624.41 239.75 L624.50 238.57 L624.60 239.45 L624.69 241.33 L624.79 242.86 L624.88 243.36 L625.00 244.97 L625.08 246.59 L625.10 248.20 L625.12 246.59 L625.20 244.97 L625.32 243.36 L625.41 242.84 L625.50 242.57 L625.59 243.23 L625.69 243.73 L625.78 243.57 L625.87 241.06 L625.96 234.26 L626.05 226.79 L626.14 219.62 L626.24 212.92 L626.33 206.09 L626.42 198.31 L626.51 189.19 L626.60 179.25 L626.69 173.45 L626.78 168.06 L626.88 164.75 L626.97 163.93 L627.06 164.54 L627.15 164.88 L627.26 164.42 L627.37 162.44 L627.47 159.66 L627.58 158.98 L627.69 162.19 L627.80 170.29 L627.91 184.07 L628.01 198.15 L628.12 210.30 L628.23 218.81 L628.34 224.41 L628.44 228.98 L628.55 233.80 L628.66 237.32 L628.77 238.51 L628.88 239.47 L628.98 239.32 L629.09 238.70 L629.20 238.60 L629.27 238.47 L629.34 238.67 L629.41 239.07 L629.48 238.61 L629.55 236.61 L629.61 230.97 L629.68 219.46 L629.75 205.92 L629.82 192.61 L629.89 181.03 L629.96 171.57 L630.03 164.89 L630.10 161.04 L630.17 159.41 L630.23 162.42 L630.30 163.70 L630.37 163.45 L630.44 162.35 L630.51 161.30 L630.58 160.91 L630.60 156.05 L630.62 151.18 L630.64 146.31 L630.66 141.45 L630.68 136.58 L630.69 131.72 L630.71 126.85 L630.72 121.99 L630.73 117.12 L630.75 112.26 L630.76 107.39 L630.76 102.52 L630.77 97.66 L630.78 92.79 L630.79 87.93 L630.79 83.06 L630.80 78.20 L630.80 73.33 L630.80 68.47 L630.80 63.60 L630.80 68.47 L630.80 73.33 L630.80 78.20 L630.81 83.06 L630.81 87.93 L630.82 92.79 L630.83 97.66 L630.84 102.52 L630.84 107.39 L630.85 112.26 L630.87 117.12 L630.88 121.99 L630.89 126.85 L630.91 131.72 L630.92 136.58 L630.94 141.45 L630.96 146.31 L630.98 151.18 L631.00 156.05 L631.02 160.91 L631.16 160.76 L631.30 159.56 L631.45 158.84 L631.59 162.31 L631.73 170.08 L631.87 181.37 L632.02 192.65 L632.16 199.87 L632.30 204.12 L632.44 209.20 L632.58 217.35 L632.73 226.95 L632.87 233.83 L633.01 232.75 L633.15 229.95 L633.30 227.85 L633.44 228.11 L633.58 229.05 L633.62 233.84 L633.65 238.62 L633.68 243.41 L633.71 248.20 L633.73 252.98 L633.75 257.77 L633.77 262.56 L633.78 267.34 L633.79 272.13 L633.80 276.91 L633.80 281.70 L633.80 276.91 L633.81 272.13 L633.82 267.34 L633.83 262.56 L633.85 257.77 L633.87 252.98 L633.89 248.20 L633.92 243.41 L633.95 238.62 L633.98 233.84 L634.02 229.05 L634.15 228.89 L634.27 230.44 L634.40 234.85 L634.52 240.35 L634.65 243.38 L634.77 235.47 L634.90 220.04 L635.02 201.82 L635.15 186.53 L635.28 176.68 L635.40 171.44 L635.53 168.28 L635.65 166.48 L635.78 164.70 L635.90 161.73 L636.03 159.80 L636.15 159.49 L636.28 159.75 L636.31 154.94 L636.34 150.14 L636.36 145.34 L636.39 140.53 L636.41 135.73 L636.43 130.93 L636.45 126.12 L636.46 121.32 L636.47 116.52 L636.48 111.71 L636.49 106.91 L636.50 102.11 L636.50 97.30 L636.50 92.50 L636.50 97.30 L636.50 102.11 L636.51 106.91 L636.52 111.71 L636.53 116.52 L636.54 121.32 L636.55 126.12 L636.57 130.93 L636.59 135.73 L636.61 140.53 L636.64 145.34 L636.66 150.14 L636.69 154.94 L636.72 159.75 L636.83 160.24 L636.94 161.98 L637.06 164.14 L637.17 164.15 L637.28 162.41 L637.39 161.83 L637.50 163.38 L637.62 170.47 L637.73 184.06 L637.84 201.22 L637.95 215.43 L638.06 221.33 L638.18 222.34 L638.29 220.54 L638.40 219.38 L638.50 220.37 L638.60 222.61 L638.70 224.25 L638.80 223.58 L638.89 219.17 L638.99 207.89 L639.09 194.94 L639.19 182.73 L639.29 172.44 L639.39 164.06 L639.49 157.13 L639.59 152.07 L639.68 151.42 L639.78 150.93 L639.88 151.44 L639.98 152.68 L640.08 153.39 L640.15 148.83 L640.20 144.26 L640.25 139.70 L640.28 135.13 L640.29 130.57 L640.30 126.00 L640.31 130.57 L640.32 135.13 L640.35 139.70 L640.40 144.26 L640.45 148.83 L640.52 153.39 L640.64 153.53 L640.77 154.78 L640.89 157.64 L641.01 161.09 L641.14 163.00 L641.26 161.46 L641.38 156.20 L641.51 151.67 L641.63 152.68 L641.75 159.86 L641.88 173.59 L642.00 191.53 L642.12 209.63 L642.24 224.10 L642.37 233.15 L642.49 237.56 L642.61 239.75 L642.74 242.10 L642.86 242.06 L642.98 244.46 L643.11 247.43 L643.23 249.40 L643.35 249.96 L643.48 249.76 L643.60 249.60 L643.67 249.74 L643.73 249.83 L643.80 249.32 L643.87 247.71 L643.94 244.86 L644.00 241.13 L644.07 232.48 L644.14 221.75 L644.21 211.02 L644.27 201.48 L644.34 193.84 L644.41 188.17 L644.47 184.02 L644.54 180.68 L644.61 177.49 L644.68 176.49 L644.74 175.07 L644.81 171.91 L644.88 168.16 L644.95 164.93 L645.01 162.95 L645.08 162.37 L645.10 157.50 L645.12 152.64 L645.13 147.77 L645.15 142.91 L645.16 138.04 L645.18 133.18 L645.19 128.31 L645.20 123.44 L645.21 118.58 L645.23 113.71 L645.24 108.85 L645.25 103.98 L645.25 99.12 L645.26 94.25 L645.27 89.39 L645.28 84.52 L645.28 79.66 L645.29 74.79 L645.29 69.93 L645.29 65.06 L645.30 60.20 L645.30 55.33 L645.30 50.47 L645.30 45.60 L645.30 50.47 L645.30 55.33 L645.30 60.20 L645.31 65.06 L645.31 69.93 L645.31 74.79 L645.32 79.66 L645.32 84.52 L645.33 89.39 L645.34 94.25 L645.35 99.12 L645.35 103.98 L645.36 108.85 L645.37 113.71 L645.39 118.58 L645.40 123.44 L645.41 128.31 L645.42 133.18 L645.44 138.04 L645.45 142.91 L645.47 147.77 L645.48 152.64 L645.50 157.50 L645.52 162.37 L645.66 161.68 L645.81 160.12 L645.95 159.23 L646.10 159.23 L646.24 158.07 L646.39 159.45 L646.53 162.69 L646.68 171.28 L646.82 188.16 L646.97 211.18 L647.11 233.08 L647.26 246.18 L647.40 245.13 L647.55 238.09 L647.69 231.95 L647.84 229.58 L647.98 229.50 L648.02 234.22 L648.05 238.94 L648.08 243.65 L648.11 248.37 L648.13 253.09 L648.15 257.81 L648.17 262.53 L648.18 267.25 L648.19 271.96 L648.20 276.68 L648.20 281.40 L648.20 276.68 L648.21 271.96 L648.22 267.25 L648.23 262.53 L648.25 257.81 L648.27 253.09 L648.29 248.37 L648.32 243.65 L648.35 238.94 L648.38 234.22 L648.42 229.50 L648.56 229.48 L648.70 230.41 L648.84 231.90 L648.98 231.41 L649.11 225.75 L649.25 211.74 L649.39 197.01 L649.53 186.54 L649.67 181.56 L649.81 179.03 L649.95 174.99 L650.09 168.76 L650.22 164.84 L650.36 161.60 L650.50 160.92 L650.64 161.70 L650.78 162.08 L650.81 157.20 L650.84 152.32 L650.86 147.45 L650.89 142.57 L650.91 137.69 L650.93 132.81 L650.95 127.94 L650.96 123.06 L650.97 118.18 L650.98 113.31 L650.99 108.43 L651.00 103.55 L651.00 98.68 L651.00 93.80 L651.00 98.68 L651.00 103.55 L651.01 108.43 L651.02 113.31 L651.03 118.18 L651.04 123.06 L651.05 127.94 L651.07 132.81 L651.09 137.69 L651.11 142.57 L651.14 147.45 L651.16 152.32 L651.19 157.20 L651.22 162.08 L651.32 163.42 L651.42 166.76 L651.53 169.31 L651.63 167.60 L651.73 162.84 L651.83 159.43 L651.93 159.25 L652.04 165.35 L652.14 177.93 L652.24 193.81 L652.34 207.33 L652.44 214.25 L652.55 217.84 L652.65 218.86 L652.75 218.92 L652.85 218.96 L652.94 218.85 L653.04 218.14 L653.13 217.02 L653.23 213.76 L653.32 207.68 L653.42 202.10 L653.51 197.37 L653.61 192.53 L653.71 186.24 L653.80 178.04 L653.90 171.75 L653.99 164.94 L654.09 159.51 L654.18 156.95 L654.28 156.56 L654.35 152.05 L654.40 147.54 L654.45 143.03 L654.48 138.52 L654.49 134.01 L654.50 129.50 L654.51 134.01 L654.52 138.52 L654.55 143.03 L654.60 147.54 L654.65 152.05 L654.72 156.56 L654.79 156.06 L654.86 155.05 L654.93 154.42 L655.00 154.96 L655.07 156.99 L655.14 160.23 L655.21 167.71 L655.28 178.20 L655.35 189.06 L655.42 199.20 L655.48 207.99 L655.55 215.37 L655.62 221.59 L655.69 227.02 L655.76 231.78 L655.83 232.63 L655.90 234.15 L655.97 236.12 L656.04 237.77 L656.11 238.68 L656.18 238.90 L656.30 242.00 L656.38 245.10 L656.40 248.20 L656.42 245.10 L656.50 242.00 L656.62 238.90 L656.74 239.10 L656.85 239.23 L656.97 238.61 L657.09 237.34 L657.20 236.69 L657.32 238.48 L657.43 238.96 L657.55 238.96 L657.67 236.60 L657.78 228.78 L657.90 213.70 L658.02 192.41 L658.13 168.80 L658.25 148.14 L658.37 134.74 L658.48 132.54 L658.60 137.33 L658.71 143.88 L658.83 149.23 L658.95 152.00 L659.06 152.65 L659.18 152.58 L659.20 147.63 L659.22 142.69 L659.23 137.74 L659.25 132.80 L659.26 127.85 L659.28 122.91 L659.29 117.96 L659.30 113.02 L659.31 108.07 L659.33 103.13 L659.34 98.18 L659.35 93.24 L659.35 88.29 L659.36 83.35 L659.37 78.40 L659.38 73.46 L659.38 68.51 L659.39 63.57 L659.39 58.62 L659.39 53.68 L659.40 48.73 L659.40 43.79 L659.40 38.84 L659.40 33.90 L659.40 38.84 L659.40 43.79 L659.40 48.73 L659.41 53.68 L659.41 58.62 L659.41 63.57 L659.42 68.51 L659.42 73.46 L659.43 78.40 L659.44 83.35 L659.45 88.29 L659.45 93.24 L659.46 98.18 L659.47 103.13 L659.49 108.07 L659.50 113.02 L659.51 117.96 L659.52 122.91 L659.54 127.85 L659.55 132.80 L659.57 137.74 L659.58 142.69 L659.60 147.63 L659.62 152.58 L659.74 152.68 L659.85 153.04 L659.97 154.21 L660.09 156.90 L660.20 161.04 L660.32 165.13 L660.43 168.65 L660.55 172.01 L660.67 172.14 L660.78 170.66 L660.90 170.93 L661.02 176.29 L661.13 188.10 L661.25 204.78 L661.37 222.43 L661.48 235.99 L661.60 241.08 L661.71 242.09 L661.83 240.63 L661.95 238.82 L662.06 237.94 L662.18 237.85 L662.22 242.51 L662.25 247.17 L662.28 251.83 L662.31 256.48 L662.33 261.14 L662.35 265.80 L662.37 270.46 L662.38 275.12 L662.39 279.78 L662.40 284.44 L662.40 289.10 L662.40 284.44 L662.41 279.78 L662.42 275.12 L662.43 270.46 L662.45 265.80 L662.47 261.14 L662.49 256.48 L662.52 251.83 L662.55 247.17 L662.58 242.51 L662.62 237.85 L662.72 237.80 L662.83 238.29 L662.93 239.93 L663.03 242.53 L663.13 245.00 L663.24 245.94 L663.34 239.64 L663.44 228.15 L663.54 214.08 L663.65 200.02 L663.75 188.17 L663.85 179.43 L663.96 173.22 L664.06 168.12 L664.16 162.83 L664.26 159.45 L664.37 156.10 L664.47 152.48 L664.57 150.17 L664.67 149.73 L664.78 150.45 L664.88 150.98 L664.92 146.31 L664.95 141.63 L664.98 136.96 L665.00 132.29 L665.03 127.61 L665.05 122.94 L665.06 118.27 L665.08 113.59 L665.09 108.92 L665.09 104.25 L665.10 99.57 L665.10 94.90 L665.10 99.57 L665.11 104.25 L665.11 108.92 L665.12 113.59 L665.14 118.27 L665.15 122.94 L665.17 127.61 L665.20 132.29 L665.22 136.96 L665.25 141.63 L665.28 146.31 L665.32 150.98 L665.41 150.98 L665.51 152.27 L665.60 155.88 L665.69 161.28 L665.79 166.58 L665.88 173.05 L665.97 180.65 L666.07 187.53 L666.16 194.39 L666.25 202.04 L666.35 210.55 L666.44 218.91 L666.53 225.27 L666.63 225.47 L666.72 224.87 L666.81 223.72 L666.91 222.77 L667.00 222.48 L667.11 222.44 L667.21 221.03 L667.31 216.70 L667.42 209.64 L667.52 199.57 L667.63 188.08 L667.74 180.33 L667.84 177.27 L667.94 177.01 L668.05 176.41 L668.15 173.37 L668.26 170.87 L668.37 166.54 L668.47 162.62 L668.57 160.83 L668.68 160.63 L668.80 157.25 L668.88 153.87 L668.90 150.48 L668.92 153.87 L669.00 157.25 L669.12 160.63 L669.19 160.55 L669.27 160.88 L669.34 162.37 L669.41 165.32 L669.49 169.34 L669.56 173.44 L669.63 182.43 L669.70 191.80 L669.78 200.62 L669.85 208.49 L669.92 215.50 L670.00 221.94 L670.07 228.01 L670.14 233.55 L670.21 235.75 L670.29 236.86 L670.36 238.16 L670.43 239.06 L670.51 239.40 L670.58 239.43 L670.70 244.18 L670.78 248.94 L670.80 253.70 L670.82 248.94 L670.90 244.18 L671.02 239.43 L671.13 239.13 L671.23 237.58 L671.34 234.38 L671.45 230.44 L671.56 227.88 L671.66 229.16 L671.77 230.84 L671.88 233.92 L671.99 236.64 L672.09 235.66 L672.20 228.44 L672.31 214.56 L672.41 196.12 L672.52 176.90 L672.63 160.81 L672.74 152.74 L672.84 150.38 L672.95 150.57 L673.06 151.67 L673.17 152.51 L673.27 152.80 L673.38 152.82 L673.40 147.98 L673.42 143.15 L673.43 138.31 L673.45 133.48 L673.47 128.64 L673.48 123.81 L673.49 118.97 L673.51 114.13 L673.52 109.30 L673.53 104.46 L673.54 99.63 L673.55 94.79 L673.56 89.96 L673.57 85.12 L673.57 80.28 L673.58 75.45 L673.59 70.61 L673.59 65.78 L673.59 60.94 L673.60 56.11 L673.60 51.27 L673.60 46.44 L673.60 41.60 L673.60 46.44 L673.60 51.27 L673.60 56.11 L673.61 60.94 L673.61 65.78 L673.61 70.61 L673.62 75.45 L673.63 80.28 L673.63 85.12 L673.64 89.96 L673.65 94.79 L673.66 99.63 L673.67 104.46 L673.68 109.30 L673.69 114.13 L673.71 118.97 L673.72 123.81 L673.73 128.64 L673.75 133.48 L673.77 138.31 L673.78 143.15 L673.80 147.98 L673.82 152.82 L673.94 152.30 L674.06 150.78 L674.19 149.37 L674.31 150.16 L674.43 154.61 L674.55 162.07 L674.67 173.36 L674.80 184.42 L674.92 191.07 L675.04 193.33 L675.16 194.09 L675.28 197.25 L675.40 205.15 L675.53 217.06 L675.65 229.62 L675.77 235.82 L675.89 238.29 L676.01 237.64 L676.14 235.64 L676.26 234.17 L676.38 233.81 L676.42 238.79 L676.46 243.77 L676.49 248.75 L676.52 253.72 L676.55 258.70 L676.56 263.68 L676.58 268.66 L676.59 273.64 L676.60 278.62 L676.60 283.60 L676.60 278.62 L676.61 273.64 L676.62 268.66 L676.64 263.68 L676.65 258.70 L676.68 253.72 L676.71 248.75 L676.74 243.77 L676.78 238.79 L676.82 233.81 L676.91 233.46 L676.99 232.77 L677.08 232.42 L677.17 232.71 L677.26 233.30 L677.34 229.45 L677.43 219.90 L677.52 206.15 L677.61 189.70 L677.69 173.20 L677.78 159.53 L677.87 150.82 L677.96 147.71 L678.04 151.70 L678.13 157.00 L678.22 160.43 L678.31 161.44 L678.39 160.84 L678.48 160.26 L678.51 155.46 L678.53 150.66 L678.55 145.86 L678.58 141.07 L678.60 136.27 L678.61 131.47 L678.63 126.67 L678.65 121.88 L678.66 117.08 L678.67 112.28 L678.68 107.49 L678.69 102.69 L678.69 97.89 L678.70 93.09 L678.70 88.30 L678.70 83.50 L678.70 88.30 L678.70 93.09 L678.71 97.89 L678.71 102.69 L678.72 107.49 L678.73 112.28 L678.74 117.08 L678.75 121.88 L678.77 126.67 L678.79 131.47 L678.80 136.27 L678.82 141.07 L678.85 145.86 L678.87 150.66 L678.89 155.46 L678.92 160.26 L679.04 160.45 L679.16 159.81 L679.29 157.36 L679.41 153.90 L679.53 151.39 L679.65 151.45 L679.77 157.74 L679.90 168.14 L680.02 178.53 L680.14 187.13 L680.26 194.30 L680.38 202.00 L680.50 212.02 L680.63 224.30 L680.75 236.63 L680.87 242.77 L680.99 245.46 L681.11 245.01 L681.24 242.97 L681.36 241.31 L681.48 240.85 L681.60 244.93 L681.68 249.02 L681.70 253.10 L681.72 249.02 L681.80 244.93 L681.92 240.85 L682.00 240.52 L682.08 239.92 L682.16 239.95 L682.24 241.52 L682.32 245.02 L682.39 249.42 L682.47 248.29 L682.55 243.37 L682.63 233.75 L682.71 219.53 L682.79 202.05 L682.87 183.59 L682.95 166.82 L683.03 154.02 L683.11 147.81 L683.18 148.23 L683.26 150.49 L683.34 153.34 L683.42 155.70 L683.50 157.01 L683.58 157.35 L683.70 155.06 L683.78 152.77 L683.80 150.48 L683.82 152.77 L683.90 155.06 L684.02 157.35 L684.13 157.21 L684.24 156.36 L684.35 154.76 L684.46 153.87 L684.57 156.05 L684.68 168.30 L684.79 187.69 L684.90 209.40 L685.02 227.59 L685.13 237.81 L685.24 239.21 L685.35 234.58 L685.46 225.77 L685.57 220.48 L685.68 219.90 L685.79 221.54 L685.90 222.48 L686.01 221.54 L686.12 219.71 L686.23 219.00 L686.34 220.46 L686.45 222.05 L686.56 217.12 L686.67 206.95 L686.78 192.61 L686.90 177.43 L687.01 165.20 L687.12 158.18 L687.23 156.51 L687.34 159.89 L687.45 161.10 L687.56 160.05 L687.67 158.30 L687.78 157.54 L687.80 152.60 L687.82 147.66 L687.84 142.72 L687.86 137.78 L687.87 132.84 L687.89 127.90 L687.90 122.96 L687.92 118.02 L687.93 113.08 L687.94 108.14 L687.95 103.20 L687.96 98.26 L687.97 93.32 L687.98 88.38 L687.98 83.44 L687.99 78.50 L687.99 73.56 L688.00 68.62 L688.00 63.68 L688.00 58.74 L688.00 53.80 L688.00 58.74 L688.00 63.68 L688.00 68.62 L688.01 73.56 L688.01 78.50 L688.02 83.44 L688.02 88.38 L688.03 93.32 L688.04 98.26 L688.05 103.20 L688.06 108.14 L688.07 113.08 L688.08 118.02 L688.10 122.96 L688.11 127.90 L688.13 132.84 L688.14 137.78 L688.16 142.72 L688.18 147.66 L688.20 152.60 L688.22 157.54 L688.31 157.27 L688.41 156.38 L688.50 155.36 L688.60 155.20 L688.69 156.90 L688.79 160.75 L688.88 166.03 L688.97 175.49 L689.07 185.74 L689.16 194.08 L689.26 199.69 L689.35 203.03 L689.44 205.63 L689.54 209.28 L689.63 215.24 L689.73 223.64 L689.82 233.43 L689.91 240.03 L690.01 245.20 L690.10 248.97 L690.20 250.90 L690.29 251.38 L690.39 251.20 L690.48 251.06 L690.55 255.80 L690.60 260.54 L690.65 265.28 L690.68 270.02 L690.69 274.76 L690.70 279.50 L690.71 274.76 L690.72 270.02 L690.75 265.28 L690.80 260.54 L690.85 255.80 L690.92 251.06 L691.00 251.10 L691.08 251.36 L691.16 252.23 L691.24 254.16 L691.32 257.35 L691.40 261.60 L691.47 266.13 L691.55 265.95 L691.63 260.37 L691.71 249.79 L691.79 234.22 L691.87 214.64 L691.95 192.92 L692.03 171.48 L692.11 152.75 L692.19 138.62 L692.27 130.07 L692.35 127.00 L692.43 131.43 L692.50 137.71 L692.58 143.47 L692.66 147.71 L692.74 150.13 L692.82 151.02 L692.90 151.06 L692.98 150.95 L693.01 146.15 L693.03 141.36 L693.05 136.56 L693.08 131.76 L693.10 126.97 L693.11 122.17 L693.13 117.37 L693.15 112.58 L693.16 107.78 L693.17 102.98 L693.18 98.18 L693.19 93.39 L693.19 88.59 L693.20 83.79 L693.20 79.00 L693.20 74.20 L693.20 79.00 L693.20 83.79 L693.21 88.59 L693.21 93.39 L693.22 98.18 L693.23 102.98 L693.24 107.78 L693.25 112.58 L693.27 117.37 L693.29 122.17 L693.30 126.97 L693.32 131.76 L693.35 136.56 L693.37 141.36 L693.39 146.15 L693.42 150.95 L693.50 150.95 L693.58 150.84 L693.67 150.76 L693.75 151.16 L693.83 152.56 L693.91 155.25 L693.99 159.02 L694.07 167.50 L694.16 178.17 L694.24 188.72 L694.32 197.99 L694.40 205.43 L694.48 211.19 L694.56 216.00 L694.64 220.74 L694.73 226.02 L694.81 231.86 L694.89 234.95 L694.97 237.87 L695.05 240.83 L695.13 242.95 L695.22 243.92 L695.30 244.03 L695.38 243.92 L695.50 244.91 L695.58 245.91 L695.60 246.90 L695.62 245.91 L695.70 244.91 L695.82 243.92 L695.88 243.80 L695.95 243.02 L696.01 241.05 L696.07 237.78 L696.14 233.57 L696.20 229.20 L696.26 222.69 L696.33 213.84 L696.39 205.34 L696.45 197.77 L696.52 191.28 L696.58 185.67 L696.65 180.54 L696.71 175.52 L696.77 170.43 L696.84 165.39 L696.90 164.04 L696.96 161.89 L697.03 159.25 L697.09 156.84 L697.15 155.10 L697.22 154.18 L697.28 153.93 L697.35 149.28 L697.40 144.62 L697.45 139.97 L697.48 135.31 L697.49 130.66 L697.50 126.00 L697.51 130.66 L697.52 135.31 L697.55 139.97 L697.60 144.62 L697.65 149.28 L697.72 153.93 L697.81 154.15 L697.91 155.01 L698.00 156.44 L698.10 157.72 L698.19 157.58 L698.29 154.67 L698.38 148.81 L698.48 145.72 L698.57 143.93 L698.67 145.76 L698.76 153.18 L698.86 166.88 L698.95 185.75 L699.05 207.08 L699.14 227.32 L699.24 243.28 L699.33 251.26 L699.43 252.30 L699.52 250.58 L699.62 247.84 L699.71 245.54 L699.81 244.36 L699.90 244.10 L700.01 244.12 L700.13 243.86 L700.24 243.61 L700.35 244.37 L700.47 246.85 L700.58 249.96 L700.69 246.80 L700.81 238.39 L700.92 223.99 L701.03 205.16 L701.15 185.46 L701.26 169.03 L701.37 158.71 L701.49 154.90 L701.60 157.02 L701.71 162.31 L701.83 165.03 L701.94 165.12 L702.05 163.92 L702.17 162.96 L702.28 162.76 L702.30 157.78 L702.32 152.80 L702.34 147.82 L702.36 142.84 L702.37 137.87 L702.39 132.89 L702.40 127.91 L702.42 122.93 L702.43 117.95 L702.44 112.97 L702.45 107.99 L702.46 103.01 L702.47 98.03 L702.48 93.05 L702.48 88.07 L702.49 83.10 L702.49 78.12 L702.50 73.14 L702.50 68.16 L702.50 63.18 L702.50 58.20 L702.50 63.18 L702.50 68.16 L702.50 73.14 L702.51 78.12 L702.51 83.10 L702.52 88.07 L702.52 93.05 L702.53 98.03 L702.54 103.01 L702.55 107.99 L702.56 112.97 L702.57 117.95 L702.58 122.93 L702.60 127.91 L702.61 132.89 L702.63 137.87 L702.64 142.84 L702.66 147.82 L702.68 152.80 L702.70 157.78 L702.72 162.76 L702.87 162.16 L703.02 162.37 L703.17 166.50 L703.32 174.20 L703.47 180.72 L703.62 186.42 L703.77 188.61 L703.92 190.90 L704.08 197.95 L704.23 210.10 L704.38 222.72 L704.53 230.55 L704.68 229.58 L704.83 227.17 L704.98 227.16 L705.13 229.01 L705.28 230.05 L705.33 234.87 L705.38 239.69 L705.41 244.51 L705.45 249.32 L705.47 254.14 L705.49 258.96 L705.50 263.78 L705.50 268.60 L705.50 263.78 L705.51 258.96 L705.53 254.14 L705.55 249.32 L705.59 244.51 L705.62 239.69 L705.67 234.87 L705.72 230.05 L705.80 230.71 L705.88 233.36 L705.96 237.94 L706.04 243.13 L706.13 246.91 L706.21 241.65 L706.29 229.69 L706.37 212.79 L706.45 193.92 L706.53 176.49 L706.61 163.17 L706.69 155.18 L706.77 153.81 L706.86 156.43 L706.94 158.39 L707.02 159.20 L707.10 159.17 L707.18 159.01 L707.20 154.21 L707.23 149.41 L707.25 144.61 L707.27 139.81 L707.29 135.01 L707.30 130.21 L707.32 125.41 L707.33 120.61 L707.35 115.80 L707.36 111.00 L707.37 106.20 L707.38 101.40 L707.38 96.60 L707.39 91.80 L707.39 87.00 L707.40 82.20 L707.40 77.40 L707.40 72.60 L707.40 77.40 L707.40 82.20 L707.41 87.00 L707.41 91.80 L707.42 96.60 L707.42 101.40 L707.43 106.20 L707.44 111.00 L707.45 115.80 L707.47 120.61 L707.48 125.41 L707.50 130.21 L707.51 135.01 L707.53 139.81 L707.55 144.61 L707.57 149.41 L707.60 154.21 L707.62 159.01 L707.75 158.69 L707.88 157.53 L708.02 156.39 L708.15 157.03 L708.28 160.38 L708.41 165.06 L708.55 171.54 L708.68 176.54 L708.81 178.09 L708.94 178.97 L709.08 183.76 L709.21 195.62 L709.34 213.71 L709.47 233.31 L709.61 248.48 L709.74 252.41 L709.87 250.27 L710.00 245.63 L710.14 241.79 L710.27 240.17 L710.40 240.00 L710.45 239.83 L710.51 239.08 L710.56 237.63 L710.61 235.64 L710.67 233.46 L710.72 231.55 L710.78 225.57 L710.83 217.41 L710.88 208.11 L710.94 198.02 L710.99 187.55 L711.04 177.15 L711.10 167.38 L711.15 158.88 L711.20 152.27 L711.26 150.34 L711.31 150.67 L711.37 151.38 L711.42 152.44 L711.47 153.64 L711.53 154.62 L711.58 155.02 L711.63 150.13 L711.68 145.24 L711.71 140.35 L711.75 135.46 L711.77 130.57 L711.79 125.68 L711.80 120.79 L711.80 115.90 L711.80 120.79 L711.81 125.68 L711.83 130.57 L711.85 135.46 L711.89 140.35 L711.92 145.24 L711.97 150.13 L712.02 155.02 L712.13 155.36 L712.25 157.46 L712.36 161.88 L712.47 167.16 L712.59 170.42 L712.70 168.96 L712.81 168.26 L712.92 166.86 L713.04 168.15 L713.15 175.02 L713.26 188.05 L713.38 204.92 L713.49 221.54 L713.60 234.01 L713.71 238.12 L713.83 237.40 L713.94 235.77 L714.05 234.77 L714.17 234.74 L714.28 234.95 L714.40 237.10 L714.48 239.25 L714.50 241.40 L714.52 239.25 L714.60 237.10 L714.72 234.95 L714.81 235.06 L714.91 235.87 L715.00 237.48 L715.09 239.03 L715.18 239.14 L715.28 232.95 L715.37 220.31 L715.46 204.49 L715.55 188.58 L715.65 175.61 L715.74 167.36 L715.83 163.83 L715.92 163.46 L716.02 166.72 L716.11 168.32 L716.20 166.92 L716.29 164.03 L716.39 161.57 L716.48 160.72 L716.50 155.74 L716.52 150.76 L716.54 145.78 L716.56 140.80 L716.58 135.82 L716.60 130.84 L716.61 125.86 L716.63 120.88 L716.64 115.90 L716.65 110.92 L716.66 105.94 L716.67 100.96 L716.68 95.98 L716.68 91.00 L716.69 86.02 L716.69 81.04 L716.70 76.06 L716.70 71.08 L716.70 66.10 L716.70 71.08 L716.70 76.06 L716.71 81.04 L716.71 86.02 L716.72 91.00 L716.72 95.98 L716.73 100.96 L716.74 105.94 L716.75 110.92 L716.76 115.90 L716.77 120.88 L716.79 125.86 L716.80 130.84 L716.82 135.82 L716.84 140.80 L716.86 145.78 L716.88 150.76 L716.90 155.74 L716.92 160.72 L717.03 160.18 L717.14 158.41 L717.24 156.14 L717.35 154.67 L717.46 154.84 L717.57 156.35 L717.67 161.68 L717.78 169.30 L717.89 177.09 L718.00 185.34 L718.10 195.15 L718.21 207.37 L718.32 221.58 L718.43 235.81 L718.53 247.27 L718.64 250.60 L718.75 250.03 L718.86 247.05 L718.96 243.61 L719.07 241.39 L719.18 240.82 L719.26 245.14 L719.32 249.45 L719.36 253.77 L719.39 258.08 L719.40 262.40 L719.41 258.08 L719.44 253.77 L719.48 249.45 L719.54 245.14 L719.62 240.82 L719.72 240.22 L719.83 238.93 L719.93 238.31 L720.03 239.57 L720.13 242.75 L720.24 244.33 L720.34 239.26 L720.44 228.56 L720.55 212.80 L720.65 194.55 L720.75 177.40 L720.86 164.50 L720.96 157.29 L721.06 155.24 L721.16 159.76 L721.27 162.95 L721.37 164.06 L721.47 163.64 L721.58 162.84 L721.68 162.53 L721.70 157.53 L721.73 152.54 L721.75 147.54 L721.77 142.55 L721.79 137.55 L721.80 132.55 L721.82 127.56 L721.83 122.56 L721.85 117.57 L721.86 112.57 L721.87 107.57 L721.88 102.58 L721.88 97.58 L721.89 92.58 L721.89 87.59 L721.90 82.59 L721.90 77.60 L721.90 72.60 L721.90 77.60 L721.90 82.59 L721.91 87.59 L721.91 92.58 L721.92 97.58 L721.92 102.58 L721.93 107.57 L721.94 112.57 L721.95 117.57 L721.97 122.56 L721.98 127.56 L722.00 132.55 L722.01 137.55 L722.03 142.55 L722.05 147.54 L722.07 152.54 L722.10 157.53 L722.12 162.53 L722.20 162.36 L722.28 162.12 L722.36 162.54 L722.44 164.48 L722.52 168.43 L722.59 174.11 L722.67 184.19 L722.75 196.82 L722.83 208.65 L722.91 217.98 L722.99 224.02 L723.07 227.11 L723.15 228.40 L723.23 229.33 L723.31 230.98 L723.38 230.66 L723.46 232.69 L723.54 236.23 L723.62 239.70 L723.70 241.94 L723.78 242.62 L723.90 244.48 L723.98 246.34 L724.00 248.20 L724.02 246.34 L724.10 244.48 L724.22 242.62 L724.30 242.78 L724.37 243.23 L724.45 243.75 L724.53 244.05 L724.60 244.06 L724.68 244.02 L724.76 241.51 L724.83 235.98 L724.91 229.86 L724.99 223.48 L725.06 216.80 L725.14 209.44 L725.21 200.98 L725.29 191.28 L725.37 180.70 L725.44 170.16 L725.52 164.13 L725.60 158.88 L725.67 155.01 L725.75 153.02 L725.83 152.68 L725.90 153.20 L725.98 153.57 L726.03 148.77 L726.07 143.97 L726.10 139.18 L726.13 134.38 L726.16 129.58 L726.18 124.79 L726.19 119.99 L726.20 115.20 L726.20 110.40 L726.20 115.20 L726.21 119.99 L726.22 124.79 L726.24 129.58 L726.27 134.38 L726.30 139.18 L726.33 143.97 L726.37 148.77 L726.42 153.57 L726.50 153.45 L726.57 153.86 L726.65 155.53 L726.73 158.31 L726.80 161.23 L726.88 164.52 L726.96 171.01 L727.03 177.47 L727.11 183.90 L727.19 190.72 L727.27 198.41 L727.34 207.00 L727.42 215.82 L727.50 222.28 L727.57 225.41 L727.65 227.93 L727.73 229.24 L727.80 229.49 L727.88 229.37 L727.96 233.42 L728.02 237.46 L728.06 241.51 L728.09 245.55 L728.10 249.60 L728.11 245.55 L728.14 241.51 L728.18 237.46 L728.24 233.42 L728.32 229.37 L728.46 229.39 L728.61 228.93 L728.75 228.53 L728.89 230.08 L729.04 234.81 L729.18 238.78 L729.32 234.31 L729.46 219.56 L729.61 194.90 L729.75 166.51 L729.89 143.36 L730.04 131.93 L730.18 132.51 L730.32 139.83 L730.46 150.56 L730.61 155.08 L730.75 154.41 L730.89 151.98 L731.04 150.39 L731.18 150.02 L731.20 145.13 L731.23 140.24 L731.25 135.35 L731.27 130.46 L731.29 125.57 L731.30 120.68 L731.32 115.79 L731.33 110.90 L731.35 106.01 L731.36 101.12 L731.37 96.23 L731.38 91.34 L731.38 86.45 L731.39 81.56 L731.39 76.67 L731.40 71.78 L731.40 66.89 L731.40 62.00 L731.40 66.89 L731.40 71.78 L731.41 76.67 L731.41 81.56 L731.42 86.45 L731.42 91.34 L731.43 96.23 L731.44 101.12 L731.45 106.01 L731.47 110.90 L731.48 115.79 L731.50 120.68 L731.51 125.57 L731.53 130.46 L731.55 135.35 L731.57 140.24 L731.60 145.13 L731.62 150.02 L731.73 150.35 L731.84 151.37 L731.94 152.42 L732.05 152.05 L732.16 148.68 L732.27 141.85 L732.37 136.77 L732.48 136.31 L732.59 142.12 L732.70 155.64 L732.80 175.70 L732.91 198.67 L733.02 219.78 L733.13 235.09 L733.23 242.90 L733.34 240.99 L733.45 236.92 L733.56 233.61 L733.66 232.12 L733.77 232.04 L733.88 232.24 L733.98 236.08 L734.05 239.92 L734.09 243.76 L734.10 247.60 L734.11 243.76 L734.15 239.92 L734.22 236.08 L734.32 232.24 L734.39 232.49 L734.46 233.54 L734.53 235.51 L734.60 238.03 L734.67 240.32 L734.74 240.97 L734.81 234.24 L734.88 223.36 L734.95 209.32 L735.02 193.76 L735.08 178.56 L735.15 165.39 L735.22 155.36 L735.29 148.85 L735.36 146.84 L735.43 148.68 L735.50 149.85 L735.57 150.15 L735.64 149.84 L735.71 149.36 L735.78 149.16 L735.81 144.40 L735.83 139.64 L735.86 134.89 L735.88 130.13 L735.90 125.37 L735.92 120.61 L735.94 115.86 L735.95 111.10 L735.96 106.34 L735.98 101.59 L735.98 96.83 L735.99 92.07 L736.00 87.31 L736.00 82.56 L736.00 77.80 L736.00 82.56 L736.00 87.31 L736.01 92.07 L736.02 96.83 L736.02 101.59 L736.04 106.34 L736.05 111.10 L736.06 115.86 L736.08 120.61 L736.10 125.37 L736.12 130.13 L736.14 134.89 L736.17 139.64 L736.19 144.40 L736.22 149.16 L736.31 148.58 L736.40 146.57 L736.49 143.47 L736.58 140.59 L736.67 139.71 L736.76 142.33 L736.85 150.96 L736.94 167.38 L737.03 186.73 L737.12 205.86 L737.21 221.93 L737.30 233.27 L737.39 239.70 L737.48 242.28 L737.57 242.64 L737.66 241.45 L737.75 237.79 L737.84 236.32 L737.93 236.17 L738.02 236.44 L738.11 236.60 L738.20 236.60 L738.30 236.70 L738.41 236.93 L738.51 236.57 L738.62 234.35 L738.72 229.41 L738.83 218.39 L738.93 203.18 L739.03 188.70 L739.14 178.14 L739.24 172.85 L739.35 171.81 L739.45 172.40 L739.55 172.03 L739.66 172.18 L739.76 169.82 L739.87 165.81 L739.97 162.56 L740.08 161.13 L740.18 160.96 L740.23 156.25 L740.27 151.55 L740.30 146.84 L740.33 142.13 L740.36 137.43 L740.38 132.72 L740.39 128.01 L740.40 123.31 L740.40 118.60 L740.40 123.31 L740.41 128.01 L740.42 132.72 L740.44 137.43 L740.47 142.13 L740.50 146.84 L740.53 151.55 L740.57 156.25 L740.62 160.96 L740.68 160.85 L740.73 160.99 L740.79 162.06 L740.84 164.46 L740.90 168.13 L740.95 174.04 L741.01 185.17 L741.07 197.62 L741.12 209.92 L741.18 220.80 L741.23 229.40 L741.29 235.40 L741.35 238.91 L741.40 238.98 L741.46 236.44 L741.51 235.26 L741.57 235.15 L741.62 235.51 L741.68 235.74 L741.80 238.53 L741.88 241.31 L741.90 244.10 L741.92 241.31 L742.00 238.53 L742.12 235.74 L742.16 235.74 L742.21 235.86 L742.25 236.13 L742.29 236.40 L742.34 236.41 L742.38 231.98 L742.43 222.62 L742.47 210.19 L742.51 195.79 L742.56 180.92 L742.60 167.28 L742.64 156.41 L742.69 149.39 L742.73 149.22 L742.78 151.69 L742.82 154.68 L742.86 157.48 L742.91 159.44 L742.95 160.12 L742.99 159.49 L743.04 157.89 L743.08 156.00 L743.12 154.67 L743.17 154.69 L743.21 158.10 L743.26 168.90 L743.30 183.69 L743.34 200.88 L743.39 218.40 L743.43 234.08 L743.47 246.10 L743.52 253.32 L743.56 254.11 L743.61 249.49 L743.65 244.40 L743.69 239.94 L743.74 236.98 L743.78 235.98 L743.85 240.28 L743.90 244.58 L743.95 248.89 L743.98 253.19 L743.99 257.50 L744.00 261.80 L744.01 257.50 L744.02 253.19 L744.05 248.89 L744.10 244.58 L744.15 240.28 L744.22 235.98 L744.28 235.77 L744.33 234.91 L744.39 233.29 L744.44 231.17 L744.50 229.02 L744.55 226.78 L744.61 219.72 L744.66 211.30 L744.72 201.85 L744.77 191.75 L744.83 181.41 L744.88 171.34 L744.94 162.20 L744.99 154.65 L745.05 150.61 L745.10 150.52 L745.16 150.74 L745.21 151.36 L745.27 152.24 L745.32 153.06 L745.38 153.41 L745.41 148.73 L745.43 144.05 L745.46 139.37 L745.48 134.69 L745.50 130.01 L745.52 125.33 L745.54 120.65 L745.55 115.97 L745.56 111.28 L745.58 106.60 L745.58 101.92 L745.59 97.24 L745.60 92.56 L745.60 87.88 L745.60 83.20 L745.60 87.88 L745.60 92.56 L745.61 97.24 L745.62 101.92 L745.62 106.60 L745.64 111.28 L745.65 115.97 L745.66 120.65 L745.68 125.33 L745.70 130.01 L745.72 134.69 L745.74 139.37 L745.77 144.05 L745.79 148.73 L745.82 153.41 L745.94 153.69 L746.07 155.70 L746.19 159.68 L746.32 163.38 L746.44 163.43 L746.56 161.26 L746.69 159.72 L746.81 161.31 L746.93 169.78 L747.06 185.60 L747.18 205.01 L747.31 222.07 L747.43 231.88 L747.55 230.86 L747.68 227.10 L747.80 223.80 L747.93 222.51 L748.05 222.48 L748.17 222.05 L748.28 220.52 L748.40 218.68 L748.52 218.03 L748.64 219.27 L748.75 217.70 L748.87 210.93 L748.99 199.06 L749.11 183.18 L749.22 166.72 L749.34 153.87 L749.46 147.30 L749.58 146.77 L749.69 152.04 L749.81 156.12 L749.93 156.23 L750.05 153.59 L750.16 150.82 L750.28 149.82 L750.32 145.07 L750.35 140.32 L750.38 135.56 L750.40 130.81 L750.43 126.06 L750.45 121.31 L750.46 116.56 L750.48 111.81 L750.49 107.05 L750.49 102.30 L750.50 97.55 L750.50 92.80 L750.50 97.55 L750.51 102.30 L750.51 107.05 L750.52 111.81 L750.54 116.56 L750.55 121.31 L750.57 126.06 L750.60 130.81 L750.62 135.56 L750.65 140.32 L750.68 145.07 L750.72 149.82 L750.83 149.06 L750.93 146.66 L751.04 143.74 L751.15 142.19 L751.26 143.11 L751.36 149.18 L751.47 159.61 L751.58 170.33 L751.68 179.88 L751.79 188.40 L751.90 196.86 L752.01 205.83 L752.11 214.32 L752.22 217.87 L752.33 220.30 L752.44 220.74 L752.54 219.87 L752.65 219.27 L752.78 220.29 L752.91 222.03 L753.04 221.18 L753.16 215.76 L753.29 203.21 L753.42 189.67 L753.55 181.31 L753.68 178.95 L753.81 178.77 L753.94 176.21 L754.07 172.01 L754.19 166.73 L754.32 162.37 L754.45 161.11 L754.58 161.37 L754.65 156.51 L754.70 151.65 L754.75 146.79 L754.78 141.92 L754.79 137.06 L754.80 132.20 L754.81 137.06 L754.82 141.92 L754.85 146.79 L754.90 151.65 L754.95 156.51 L755.02 161.37 L755.08 161.14 L755.13 160.80 L755.19 160.83 L755.24 161.48 L755.30 162.71 L755.36 164.22 L755.41 169.47 L755.47 177.92 L755.53 187.62 L755.58 197.96 L755.64 208.36 L755.69 218.35 L755.75 227.52 L755.81 235.45 L755.86 241.72 L755.92 242.83 L755.98 243.58 L756.03 244.17 L756.09 244.38 L756.14 244.25 L756.20 244.10 L756.25 244.44 L756.31 245.82 L756.36 248.58 L756.42 252.73 L756.47 257.87 L756.53 262.59 L756.58 260.69 L756.64 254.52 L756.69 243.89 L756.75 229.31 L756.80 212.07 L756.86 193.97 L756.91 177.05 L756.97 163.21 L757.02 155.08 L757.08 153.23 L757.13 153.57 L757.19 155.44 L757.24 157.86 L757.30 159.83 L757.35 160.58 L757.40 159.73 L757.44 157.37 L757.49 154.09 L757.54 150.73 L757.58 148.14 L757.63 147.00 L757.68 153.57 L757.72 164.29 L757.77 178.18 L757.82 193.72 L757.86 209.19 L757.91 223.00 L757.95 233.91 L758.00 241.23 L758.05 242.62 L758.09 241.37 L758.14 240.04 L758.19 238.98 L758.23 238.39 L758.28 238.22 L758.36 242.68 L758.42 247.13 L758.46 251.59 L758.49 256.04 L758.50 260.50 L758.51 256.04 L758.54 251.59 L758.58 247.13 L758.64 242.68 L758.72 238.22 L758.77 238.30 L758.83 238.77 L758.88 240.05 L758.93 242.36 L758.99 245.69 L759.04 247.61 L759.09 244.63 L759.14 238.55 L759.20 229.31 L759.25 217.36 L759.30 203.67 L759.36 189.60 L759.41 176.71 L759.46 166.41 L759.51 162.92 L759.57 160.78 L759.62 160.02 L759.67 160.28 L759.73 160.91 L759.78 161.25 L759.81 156.41 L759.84 151.58 L759.86 146.75 L759.89 141.92 L759.91 137.09 L759.93 132.26 L759.95 127.42 L759.96 122.59 L759.97 117.76 L759.98 112.93 L759.99 108.10 L760.00 103.26 L760.00 98.43 L760.00 93.60 L760.00 98.43 L760.00 103.26 L760.01 108.10 L760.02 112.93 L760.03 117.76 L760.04 122.59 L760.05 127.42 L760.07 132.26 L760.09 137.09 L760.11 141.92 L760.14 146.75 L760.16 151.58 L760.19 156.41 L760.22 161.25 L760.41 161.59 L760.61 162.80 L760.80 162.03 L761.00 156.16 L761.19 148.20 L761.38 146.54 L761.58 161.68 L761.77 183.95 L761.97 201.70 L762.16 210.10 L762.35 215.33 L762.55 225.61 L762.74 240.38 L762.94 251.03 L763.13 249.18 L763.32 240.98 L763.52 235.92 L763.71 236.56 L763.91 239.14 L764.10 240.00 L764.15 239.77 L764.19 239.51 L764.24 239.81 L764.29 241.08 L764.33 243.46 L764.38 246.79 L764.43 247.65 L764.48 244.30 L764.52 238.20 L764.57 229.32 L764.62 218.00 L764.66 204.97 L764.71 191.21 L764.76 177.87 L764.80 166.05 L764.85 156.64 L764.90 153.42 L764.95 151.45 L764.99 150.27 L765.04 149.72 L765.09 149.57 L765.13 149.57 L765.18 149.59 L765.22 144.83 L765.26 140.07 L765.29 135.31 L765.32 130.55 L765.35 125.80 L765.36 121.04 L765.38 116.28 L765.39 111.52 L765.40 106.76 L765.40 102.00 L765.40 106.76 L765.41 111.52 L765.42 116.28 L765.44 121.04 L765.45 125.80 L765.48 130.55 L765.51 135.31 L765.54 140.07 L765.58 144.83 L765.62 149.59 L765.75 149.98 L765.88 150.52 L766.02 149.49 L766.15 145.64 L766.28 140.10 L766.41 137.90 L766.55 146.35 L766.68 163.23 L766.81 184.35 L766.94 203.16 L767.08 214.59 L767.21 217.97 L767.34 216.79 L767.47 214.42 L767.60 213.57 L767.74 216.68 L767.87 220.39 L768.00 222.26 L768.13 222.48 L768.28 222.99 L768.42 225.08 L768.56 227.69 L768.71 228.46 L768.85 226.52 L769.00 220.13 L769.14 212.13 L769.28 205.27 L769.43 197.61 L769.57 185.74 L769.72 168.59 L769.86 149.65 L770.00 135.22 L770.15 132.47 L770.29 137.49 L770.44 144.63 L770.58 149.46 L770.72 150.72 L770.87 150.48 L770.99 151.20 L771.12 153.16 L771.24 154.76 L771.37 154.11 L771.50 150.96 L771.62 147.27 L771.75 151.86 L771.87 162.84 L772.00 178.50 L772.12 194.78 L772.25 207.53 L772.37 214.91 L772.50 218.08 L772.63 219.85 L772.75 220.10 L772.88 221.79 L773.00 224.97 L773.13 227.37 L773.25 228.15 L773.38 228.11 L773.44 232.60 L773.49 237.10 L773.53 241.60 L773.56 246.10 L773.58 250.60 L773.60 255.10 L773.60 259.60 L773.60 255.10 L773.62 250.60 L773.64 246.10 L773.67 241.60 L773.71 237.10 L773.76 232.60 L773.82 228.11 L773.88 227.91 L773.94 226.82 L774.00 224.37 L774.06 220.64 L774.13 216.34 L774.19 208.78 L774.25 198.88 L774.31 189.35 L774.37 181.18 L774.43 174.80 L774.49 170.07 L774.55 166.50 L774.61 163.54 L774.67 163.43 L774.74 162.40 L774.80 159.74 L774.86 156.67 L774.92 154.34 L774.98 153.51 L775.02 148.69 L775.06 143.87 L775.09 139.05 L775.12 134.23 L775.15 129.41 L775.16 124.59 L775.18 119.76 L775.19 114.94 L775.20 110.12 L775.20 105.30 L775.20 110.12 L775.21 114.94 L775.22 119.76 L775.24 124.59 L775.25 129.41 L775.28 134.23 L775.31 139.05 L775.34 143.87 L775.38 148.69 L775.42 153.51 L775.56 153.32 L775.69 152.66 L775.83 152.15 L775.96 152.23 L776.10 151.95 L776.24 149.23 L776.37 146.80 L776.51 146.12 L776.65 149.86 L776.78 162.09 L776.92 183.65 L777.05 210.61 L777.19 235.74 L777.33 252.35 L777.46 257.89 L777.60 251.55 L777.74 243.48 L777.87 238.17 L778.01 236.47 L778.14 236.75 L778.28 237.06 L778.40 239.87 L778.48 242.69 L778.50 245.50 L778.52 242.69 L778.60 239.87 L778.72 237.06 L778.79 237.19 L778.86 237.51 L778.93 237.59 L779.00 236.88 L779.07 234.96 L779.14 231.24 L779.21 221.14 L779.28 208.83 L779.35 195.81 L779.42 183.62 L779.48 173.41 L779.55 165.75 L779.62 160.56 L779.69 157.38 L779.76 156.87 L779.83 158.61 L779.90 158.76 L779.97 157.88 L780.04 156.71 L780.11 155.88 L780.18 155.64 L780.21 150.90 L780.24 146.17 L780.27 141.44 L780.29 136.70 L780.32 131.97 L780.34 127.24 L780.35 122.50 L780.37 117.77 L780.38 113.03 L780.39 108.30 L780.39 103.57 L780.40 98.83 L780.40 94.10 L780.40 98.83 L780.41 103.57 L780.41 108.30 L780.42 113.03 L780.43 117.77 L780.45 122.50 L780.46 127.24 L780.48 131.97 L780.51 136.70 L780.53 141.44 L780.56 146.17 L780.59 150.90 L780.62 155.64 L780.76 155.18 L780.90 155.21 L781.05 158.77 L781.19 166.78 L781.33 175.60 L781.47 184.38 L781.61 186.98 L781.76 184.27 L781.90 182.17 L782.04 186.21 L782.18 197.05 L782.32 210.22 L782.47 217.50 L782.61 220.73 L782.75 221.73 L782.89 222.18 L783.03 222.48 L783.18 221.95 L783.33 221.23 L783.49 223.59 L783.64 231.80 L783.79 240.75 L783.94 240.79 L784.09 227.39 L784.24 201.70 L784.39 173.14 L784.54 152.88 L784.69 145.96 L784.84 151.64 L784.99 158.09 L785.14 160.66 L785.30 160.54 L785.45 160.27 L785.57 157.01 L785.64 153.75 L785.67 150.48 L785.69 153.75 L785.76 157.01 L785.89 160.27 L786.00 159.97 L786.11 159.53 L786.22 160.04 L786.33 162.20 L786.43 165.52 L786.54 168.29 L786.65 174.62 L786.76 179.99 L786.87 184.82 L786.98 190.81 L787.09 199.78 L787.20 212.22 L787.31 226.54 L787.42 239.60 L787.53 245.94 L787.64 246.94 L787.75 245.12 L787.86 242.27 L787.97 240.26 L788.08 239.73 L788.18 244.02 L788.25 248.31 L788.29 252.61 L788.30 256.90 L788.31 252.61 L788.35 248.31 L788.42 244.02 L788.52 239.73 L788.58 239.01 L788.64 236.97 L788.69 234.10 L788.75 231.19 L788.81 229.09 L788.87 226.37 L788.93 220.35 L788.98 213.39 L789.04 205.52 L789.10 196.87 L789.16 187.79 L789.22 178.87 L789.27 170.85 L789.33 164.54 L789.39 163.80 L789.45 163.10 L789.51 162.66 L789.56 162.53 L789.62 162.56 L789.68 162.59 L789.72 157.91 L789.75 153.23 L789.78 148.55 L789.80 143.86 L789.83 139.18 L789.85 134.50 L789.86 129.81 L789.88 125.13 L789.89 120.45 L789.89 115.77 L789.90 111.08 L789.90 106.40 L789.90 111.08 L789.91 115.77 L789.91 120.45 L789.92 125.13 L789.94 129.81 L789.95 134.50 L789.97 139.18 L790.00 143.86 L790.02 148.55 L790.05 153.23 L790.08 157.91 L790.12 162.59 L790.32 163.64 L790.51 165.94 L790.71 164.13 L790.91 154.66 L791.11 145.50 L791.30 152.78 L791.50 175.34 L791.70 200.04 L791.90 213.23 L792.10 215.03 L792.29 215.91 L792.49 220.21 L792.69 224.92 L792.88 226.99 L793.08 226.23 L793.28 225.73 L793.40 229.16 L793.48 232.58 L793.50 236.00 L793.52 232.58 L793.60 229.16 L793.72 225.73 L793.78 225.64 L793.84 225.61 L793.89 226.11 L793.95 227.61 L794.01 230.33 L794.07 230.61 L794.13 227.75 L794.18 222.51 L794.24 214.58 L794.30 204.03 L794.36 191.47 L794.42 178.03 L794.47 165.18 L794.53 154.45 L794.59 149.78 L794.65 147.46 L794.71 146.82 L794.76 147.43 L794.82 148.48 L794.88 149.01 L794.93 144.03 L794.97 139.05 L795.00 134.07 L795.03 129.09 L795.06 124.12 L795.08 119.14 L795.09 114.16 L795.10 109.18 L795.10 104.20 L795.10 109.18 L795.11 114.16 L795.12 119.14 L795.14 124.12 L795.17 129.09 L795.20 134.07 L795.23 139.05 L795.27 144.03 L795.32 149.01 L795.45 148.88 L795.57 149.62 L795.70 151.85 L795.83 154.46 L795.96 155.75 L796.08 157.79 L796.21 163.26 L796.34 172.32 L796.46 185.52 L796.59 200.92 L796.72 214.73 L796.84 223.53 L796.97 226.41 L797.10 225.28 L797.23 220.35 L797.35 218.63 L797.48 219.84 L797.61 221.74 L797.73 222.48 L797.88 222.05 L798.02 222.51 L798.16 225.42 L798.30 229.25 L798.44 226.44 L798.59 214.91 L798.73 198.03 L798.87 181.68 L799.01 171.00 L799.15 166.83 L799.29 165.75 L799.44 163.73 L799.58 162.14 L799.72 158.99 L799.86 156.44 L800.00 155.65 L800.15 155.68 L800.27 153.95 L800.34 152.22 L800.37 150.48 L800.39 152.22 L800.46 153.95 L800.59 155.68 L800.70 155.97 L800.82 156.78 L800.93 157.01 L801.05 154.84 L801.16 149.12 L801.28 144.40 L801.39 143.14 L801.51 147.86 L801.63 160.48 L801.74 179.88 L801.86 202.05 L801.97 221.85 L802.09 235.40 L802.20 241.61 L802.32 239.95 L802.43 235.71 L802.55 232.72 L802.66 231.47 L802.78 231.25 L802.86 235.30 L802.92 239.35 L802.96 243.40 L802.99 247.45 L803.00 251.50 L803.01 247.45 L803.04 243.40 L803.08 239.35 L803.14 235.30 L803.22 231.25 L803.29 231.42 L803.37 231.87 L803.44 232.29 L803.51 232.05 L803.59 229.23 L803.66 220.37 L803.73 208.12 L803.80 193.60 L803.88 178.53 L803.95 164.81 L804.02 154.02 L804.10 147.00 L804.17 143.69 L804.24 143.27 L804.31 146.13 L804.39 150.13 L804.46 152.25 L804.53 152.71 L804.61 152.31 L804.68 152.01 L804.73 147.24 L804.77 142.47 L804.80 137.71 L804.83 132.94 L804.86 128.17 L804.88 123.40 L804.89 118.64 L804.90 113.87 L804.90 109.10 L804.90 113.87 L804.91 118.64 L804.92 123.40 L804.94 128.17 L804.97 132.94 L805.00 137.71 L805.03 142.47 L805.07 147.24 L805.12 152.01 L805.23 151.93 L805.34 151.33 L805.45 150.29 L805.57 149.71 L805.68 150.72 L805.79 153.88 L805.90 162.47 L806.01 172.96 L806.12 182.64 L806.23 190.03 L806.34 195.08 L806.46 199.11 L806.57 203.97 L806.68 210.92 L806.79 219.94 L806.90 229.71 L807.01 238.32 L807.12 243.45 L807.23 243.72 L807.35 243.16 L807.46 242.62 L807.57 242.55 L807.68 242.68 L807.80 244.32 L807.88 245.96 L807.90 247.60 L807.92 245.96 L808.00 244.32 L808.12 242.68 L808.19 242.47 L808.25 242.34 L808.32 243.09 L808.39 245.32 L808.45 248.55 L808.52 248.80 L808.58 247.94 L808.65 245.06 L808.72 239.39 L808.78 230.59 L808.85 218.93 L808.92 205.27 L808.98 190.92 L809.05 177.34 L809.12 165.84 L809.18 157.27 L809.25 154.38 L809.31 153.78 L809.38 154.03 L809.45 154.59 L809.51 155.03 L809.58 155.18 L809.62 150.66 L809.66 146.13 L809.69 141.60 L809.72 137.07 L809.75 132.54 L809.76 128.01 L809.78 123.49 L809.79 118.96 L809.80 114.43 L809.80 109.90 L809.80 114.43 L809.81 118.96 L809.82 123.49 L809.84 128.01 L809.85 132.54 L809.88 137.07 L809.91 141.60 L809.94 146.13 L809.98 150.66 L810.02 155.18 L810.16 154.93 L810.30 153.43 L810.43 150.32 L810.57 147.33 L810.71 150.40 L810.85 162.17 L810.99 179.55 L811.12 197.14 L811.26 209.37 L811.40 214.21 L811.54 214.24 L811.68 214.11 L811.81 216.68 L811.95 219.32 L812.09 221.46 L812.23 222.48 L812.37 222.48 L812.51 223.01 L812.66 224.49 L812.81 224.99 L812.95 219.22 L813.10 208.05 L813.25 196.20 L813.39 187.55 L813.54 182.62 L813.69 178.52 L813.83 172.31 L813.98 164.26 L814.13 157.71 L814.27 157.57 L814.42 159.42 L814.57 161.08 L814.71 161.42 L814.84 157.77 L814.91 154.13 L814.93 150.48 L814.96 154.13 L815.03 157.77 L815.15 161.42 L815.29 162.34 L815.42 163.69 L815.55 162.66 L815.68 158.16 L815.82 156.43 L815.95 158.61 L816.08 166.82 L816.22 179.70 L816.35 193.40 L816.48 204.41 L816.62 211.84 L816.75 217.05 L816.88 221.05 L817.01 222.42 L817.15 223.62 L817.28 223.89 L817.35 228.68 L817.40 233.46 L817.45 238.25 L817.48 243.03 L817.49 247.82 L817.50 252.60 L817.51 247.82 L817.52 243.03 L817.55 238.25 L817.60 233.46 L817.65 228.68 L817.72 223.89 L817.81 224.36 L817.89 225.36 L817.98 225.91 L818.07 223.48 L818.16 215.98 L818.24 205.82 L818.33 194.59 L818.42 184.17 L818.51 175.98 L818.59 170.45 L818.68 166.98 L818.77 164.33 L818.86 161.34 L818.94 157.54 L819.03 155.11 L819.12 153.15 L819.21 151.37 L819.29 150.43 L819.38 150.25 L819.43 145.55 L819.47 140.86 L819.50 136.17 L819.53 131.47 L819.56 126.78 L819.58 122.08 L819.59 117.39 L819.60 112.69 L819.60 108.00 L819.60 112.69 L819.61 117.39 L819.62 122.08 L819.64 126.78 L819.67 131.47 L819.70 136.17 L819.73 140.86 L819.77 145.55 L819.82 150.25 L819.93 150.02 L820.04 149.66 L820.15 149.71 L820.27 150.33 L820.38 151.06 L820.49 153.08 L820.60 156.56 L820.71 160.25 L820.82 165.21 L820.93 172.80 L821.04 183.82 L821.16 197.79 L821.27 212.89 L821.38 226.56 L821.49 236.61 L821.60 242.17 L821.71 243.94 L821.82 243.68 L821.93 242.75 L822.05 240.58 L822.16 240.32 L822.27 240.93 L822.38 241.29 L822.50 242.70 L822.58 244.10 L822.60 245.50 L822.62 244.10 L822.70 242.70 L822.82 241.29 L822.89 241.27 L822.95 241.38 L823.02 241.72 L823.09 241.45 L823.15 237.56 L823.22 232.07 L823.28 224.98 L823.35 216.60 L823.42 207.48 L823.48 198.30 L823.55 189.72 L823.62 182.20 L823.68 175.91 L823.75 170.73 L823.82 166.40 L823.88 162.58 L823.95 159.52 L824.01 158.96 L824.08 157.84 L824.15 156.61 L824.21 155.72 L824.28 155.41 L824.33 150.65 L824.38 145.88 L824.41 141.12 L824.45 136.35 L824.47 131.59 L824.49 126.83 L824.50 122.06 L824.50 117.30 L824.50 122.06 L824.51 126.83 L824.53 131.59 L824.55 136.35 L824.59 141.12 L824.62 145.88 L824.67 150.65 L824.72 155.41 L824.86 154.99 L825.00 153.94 L825.13 153.84 L825.27 156.71 L825.41 165.48 L825.55 174.73 L825.69 180.82 L825.82 182.63 L825.96 182.62 L826.10 184.91 L826.24 191.98 L826.38 202.76 L826.51 213.68 L826.65 221.46 L826.79 223.06 L826.93 222.73 L827.07 222.48 L827.20 222.61 L827.33 222.67 L827.46 222.21 L827.59 219.28 L827.72 217.13 L827.85 215.66 L827.98 212.90 L828.11 206.07 L828.24 193.72 L828.37 177.38 L828.50 161.12 L828.63 149.31 L828.76 144.03 L828.89 144.26 L829.02 149.18 L829.15 152.50 L829.28 153.60 L829.41 153.63 L829.54 152.58 L829.61 151.53 L829.63 150.48 L829.66 151.53 L829.73 152.58 L829.85 153.63 L829.95 153.67 L830.06 153.66 L830.16 153.67 L830.26 154.14 L830.36 156.98 L830.46 163.60 L830.56 171.70 L830.66 179.98 L830.76 187.11 L830.87 192.34 L830.97 195.92 L831.07 198.93 L831.17 202.75 L831.27 208.31 L831.37 215.58 L831.47 223.59 L831.57 230.90 L831.68 235.95 L831.78 236.70 L831.88 236.67 L831.98 236.52 L832.10 240.88 L832.18 245.24 L832.20 249.60 L832.22 245.24 L832.30 240.88 L832.42 236.52 L832.50 236.32 L832.58 235.44 L832.66 233.70 L832.74 228.00 L832.82 221.57 L832.89 215.33 L832.97 209.94 L833.05 205.61 L833.13 201.97 L833.21 198.30 L833.29 193.80 L833.37 188.00 L833.45 180.91 L833.53 173.06 L833.61 165.33 L833.68 158.62 L833.76 154.91 L833.84 153.70 L833.92 153.14 L834.00 152.95 L834.08 152.91 L834.14 147.94 L834.19 142.97 L834.23 137.99 L834.26 133.02 L834.28 128.05 L834.30 123.07 L834.30 118.10 L834.30 123.07 L834.32 128.05 L834.34 133.02 L834.37 137.99 L834.41 142.97 L834.46 147.94 L834.52 152.91 L834.66 153.04 L834.81 152.80 L834.95 150.93 L835.09 146.96 L835.24 145.28 L835.38 147.62 L835.52 155.95 L835.66 169.94 L835.81 186.13 L835.95 199.90 L836.09 208.34 L836.24 211.87 L836.38 213.41 L836.52 215.98 L836.66 220.57 L836.81 226.06 L836.95 230.64 L837.09 231.72 L837.24 231.35 L837.38 231.21 L837.50 234.60 L837.58 238.00 L837.60 241.40 L837.62 238.00 L837.70 234.60 L837.82 231.21 L837.88 230.88 L837.95 230.02 L838.01 226.50 L838.08 221.55 L838.14 216.44 L838.21 211.52 L838.27 206.78 L838.34 201.90 L838.40 196.46 L838.46 190.16 L838.53 183.05 L838.59 175.58 L838.66 168.50 L838.72 162.63 L838.79 160.25 L838.85 159.75 L838.92 159.82 L838.98 159.97 L839.04 155.35 L839.09 150.72 L839.13 146.10 L839.16 141.47 L839.18 136.85 L839.20 132.22 L839.20 127.60 L839.20 132.22 L839.22 136.85 L839.24 141.47 L839.27 146.10 L839.31 150.72 L839.36 155.35 L839.42 159.97 L839.56 160.02 L839.69 161.26 L839.83 164.22 L839.97 170.14 L840.10 175.61 L840.24 178.90 L840.37 181.12 L840.51 184.66 L840.65 190.95 L840.78 199.18 L840.92 207.20 L841.06 213.31 L841.19 217.53 L841.33 220.83 L841.46 221.59 L841.60 222.00 L841.73 221.21 L841.86 218.46 L842.00 214.29 L842.13 212.39 L842.26 212.70 L842.39 212.43 L842.52 208.21 L842.66 198.98 L842.79 187.06 L842.92 175.65 L843.05 167.54 L843.18 163.58 L843.32 164.19 L843.45 164.86 L843.58 164.93 L843.70 160.65 L843.78 156.38 L843.80 152.10 L843.82 156.38 L843.90 160.65 L844.02 164.93 L844.18 165.44 L844.34 165.32 L844.50 164.40 L844.66 166.82 L844.81 173.11 L844.97 180.60 L845.13 186.21 L845.29 188.39 L845.45 189.13 L845.61 192.41 L845.77 200.24 L845.93 211.09 L846.09 221.27 L846.24 227.71 L846.40 230.53 L846.56 232.08 L846.72 233.33 L846.88 234.32 L847.00 239.14 L847.08 243.97 L847.10 248.80 L847.12 243.97 L847.20 239.14 L847.32 234.32 L847.41 233.89 L847.50 232.37 L847.58 228.15 L847.67 222.99 L847.76 216.68 L847.85 209.25 L847.94 201.23 L848.02 193.65 L848.11 187.31 L848.20 182.11 L848.29 177.93 L848.38 174.84 L848.46 172.52 L848.55 170.27 L848.64 167.43 L848.73 163.81 L848.82 161.22 L848.90 159.35 L848.99 157.93 L849.08 157.49 L849.15 152.74 L849.20 147.99 L849.25 143.25 L849.28 138.50 L849.29 133.75 L849.30 129.00 L849.31 133.75 L849.32 138.50 L849.35 143.25 L849.40 147.99 L849.45 152.74 L849.52 157.49 L849.67 158.27 L849.82 159.42 L849.97 160.13 L850.12 162.73 L850.26 166.98 L850.41 170.35 L850.56 172.25 L850.71 173.77 L850.86 177.29 L851.01 184.66 L851.16 194.81 L851.31 204.38 L851.46 210.94 L851.61 214.16 L851.75 215.67 L851.90 217.77 L852.05 221.64 L852.20 227.18 L852.35 232.64 L852.50 235.00 L852.60 234.50 L852.70 234.62 L852.80 233.04 L852.90 230.71 L853.00 226.86 L853.10 220.94 L853.20 212.86 L853.30 203.26 L853.40 193.73 L853.50 185.84 L853.60 179.60 L853.70 174.57 L853.80 170.61 L853.90 167.30 L854.00 163.96 L854.10 160.03 L854.20 155.34 L854.30 150.20 L854.40 145.19 L854.50 140.88 L854.60 137.95 L854.70 137.85 L854.80 138.01 L854.90 138.19 L855.00 138.10 L855.08 139.03 L855.17 141.54 L855.25 144.45 L855.34 150.74 L855.42 157.82 L855.51 164.42 L855.59 169.64 L855.67 173.18 L855.76 175.43 L855.84 177.15 L855.93 179.08 L856.01 181.66 L856.09 185.04 L856.18 189.65 L856.26 195.76 L856.35 202.35 L856.43 208.08 L856.52 212.02 L856.60 212.50 L856.74 210.15 L856.88 206.84 L857.02 201.85 L857.15 195.28 L857.29 189.45 L857.43 186.17 L857.57 184.79 L857.71 184.03 L857.85 182.50 L857.98 179.00 L858.12 173.75 L858.26 168.20 L858.40 164.40 L858.55 166.85 L858.70 169.62 L858.84 173.54 L858.99 178.79 L859.14 184.53 L859.29 189.09 L859.43 191.61 L859.58 192.04 L859.73 191.24 L859.88 190.94 L860.02 193.14 L860.17 199.68 L860.32 209.88 L860.47 220.02 L860.61 226.93 L860.76 229.87 L860.91 230.09 L861.06 229.50 L861.20 230.83 L861.35 238.07 L861.50 246.60 L861.59 239.57 L861.68 233.56 L861.77 229.68 L861.85 229.12 L861.94 228.18 L862.03 226.23 L862.12 222.77 L862.21 217.53 L862.30 210.69 L862.38 202.81 L862.47 194.90 L862.56 188.15 L862.65 183.36 L862.74 180.54 L862.83 179.17 L862.92 178.47 L863.00 177.73 L863.09 176.38 L863.18 174.10 L863.27 170.79 L863.36 166.67 L863.45 162.18 L863.53 157.77 L863.62 152.19 L863.71 147.12 L863.80 143.00 L863.95 146.24 L864.10 148.64 L864.26 151.65 L864.41 156.66 L864.56 163.05 L864.71 169.20 L864.87 173.97 L865.02 177.67 L865.17 181.10 L865.32 184.19 L865.48 186.96 L865.63 191.49 L865.78 197.16 L865.93 201.20 L866.09 203.28 L866.24 204.96 L866.39 207.24 L866.54 209.73 L866.70 212.35 L866.85 217.63 L867.00 224.10 L867.12 217.53 L867.25 211.88 L867.37 209.67 L867.49 208.64 L867.61 206.81 L867.74 204.09 L867.86 200.84 L867.98 197.58 L868.10 194.41 L868.23 190.90 L868.35 186.41 L868.47 180.92 L868.60 174.89 L868.72 168.89 L868.84 163.76 L868.96 160.18 L869.09 157.97 L869.21 156.19 L869.33 153.77 L869.45 149.29 L869.58 143.46 L869.70 139.20 L869.83 142.55 L869.95 145.81 L870.08 149.55 L870.21 153.39 L870.33 157.68 L870.46 163.49 L870.59 171.14 L870.71 178.86 L870.84 183.83 L870.97 185.86 L871.09 186.94 L871.22 188.16 L871.35 190.07 L871.47 193.76 L871.60 197.60 L871.74 194.27 L871.88 190.55 L872.01 187.62 L872.15 185.35 L872.29 181.80 L872.43 177.50 L872.56 174.61 L872.70 168.10 L872.89 172.83 L873.08 176.25 L873.27 178.33 L873.46 183.42 L873.64 191.29 L873.83 197.73 L874.02 199.26 L874.21 197.75 L874.40 197.05 L874.59 198.85 L874.78 202.93 L874.97 207.91 L875.16 213.42 L875.34 220.24 L875.53 227.84 L875.72 233.68 L875.91 236.63 L876.10 240.00 L876.24 234.67 L876.38 227.80 L876.52 222.56 L876.66 218.59 L876.80 214.53 L876.95 211.08 L877.09 209.05 L877.23 208.47 L877.37 208.28 L877.51 206.61 L877.65 201.98 L877.79 194.58 L877.93 186.63 L878.07 180.56 L878.21 176.95 L878.35 175.08 L878.50 173.63 L878.64 171.43 L878.78 167.95 L878.92 162.57 L879.06 156.36 L879.20 152.10 L879.34 154.68 L879.49 156.54 L879.63 160.48 L879.78 167.93 L879.92 177.62 L880.06 185.02 L880.21 188.12 L880.35 188.90 L880.49 188.91 L880.64 189.31 L880.78 191.24 L880.92 195.75 L881.07 202.12 L881.21 208.08 L881.36 212.21 L881.50 214.80 L881.69 211.35 L881.88 205.42 L882.06 200.18 L882.25 196.89 L882.44 196.39 L882.63 197.05 L882.82 195.23 L883.01 188.32 L883.19 177.79 L883.38 169.91 L883.57 168.25 L883.76 170.11 L883.95 171.24 L884.14 169.83 L884.32 166.21 L884.51 156.85 L884.70 149.00 L884.89 151.55 L885.09 152.86 L885.28 155.19 L885.47 159.56 L885.67 164.34 L885.86 168.48 L886.05 172.22 L886.25 176.21 L886.44 180.39 L886.64 184.10 L886.83 185.23 L887.02 182.62 L887.22 179.63 L887.41 180.70 L887.60 185.84 L887.80 191.14 L887.99 194.76 L888.18 197.16 L888.38 200.02 L888.57 205.45 L888.76 213.52 L888.96 221.06 L889.15 224.47 L889.35 223.13 L889.54 219.71 L889.73 217.78 L889.93 219.28 L890.12 224.88 L890.31 232.56 L890.51 237.81 L890.70 240.60 L890.87 238.28 L891.03 234.93 L891.20 229.70 L891.36 223.99 L891.53 219.15 L891.69 215.69 L891.86 212.83 L892.02 209.36 L892.19 205.06 L892.35 200.93 L892.52 198.16 L892.68 196.98 L892.85 195.86 L893.01 192.46 L893.18 186.64 L893.34 181.18 L893.51 177.19 L893.67 174.18 L893.84 171.62 L894.00 168.44 L894.17 162.64 L894.33 156.39 L894.50 152.60 L894.68 155.23 L894.86 159.17 L895.04 164.53 L895.22 170.96 L895.40 177.83 L895.58 183.08 L895.76 185.99 L895.94 187.03 L896.12 187.26 L896.30 189.54 L896.48 195.29 L896.66 201.82 L896.84 205.79 L897.02 207.94 L897.20 211.80 L897.39 204.90 L897.59 198.25 L897.78 194.59 L897.97 193.07 L898.16 193.54 L898.36 193.50 L898.55 189.34 L898.74 182.71 L898.94 178.74 L899.13 177.83 L899.32 176.83 L899.51 173.31 L899.71 165.08 L899.90 157.20 L900.10 159.25 L900.29 160.19 L900.49 161.90 L900.69 165.72 L900.88 170.83 L901.08 175.36 L901.28 178.00 L901.47 179.09 L901.67 180.18 L901.87 182.85 L902.06 187.23 L902.26 190.88 L902.46 191.24 L902.65 189.71 L902.85 189.51 L903.05 191.25 L903.24 195.33 L903.44 201.64 L903.64 207.18 L903.83 210.60 L904.03 213.14 L904.23 216.29 L904.42 219.74 L904.62 222.17 L904.82 223.23 L905.01 224.00 L905.21 226.39 L905.41 231.25 L905.60 235.39 L905.80 238.00 L905.95 235.50 L906.09 232.93 L906.24 229.18 L906.38 223.55 L906.53 216.08 L906.67 207.98 L906.82 201.30 L906.96 197.53 L907.11 196.51 L907.25 196.99 L907.40 197.14 L907.55 195.20 L907.69 190.30 L907.84 182.77 L907.98 175.02 L908.13 169.70 L908.27 167.20 L908.42 166.35 L908.56 165.83 L908.71 163.35 L908.85 156.99 L909.00 150.10 L909.19 157.36 L909.39 159.47 L909.58 159.96 L909.77 164.08 L909.97 170.79 L910.16 176.08 L910.35 178.21 L910.55 179.91 L910.74 183.80 L910.93 189.38 L911.13 195.66 L911.32 200.82 L911.51 204.36 L911.71 207.42 L911.90 209.80 L912.09 206.68 L912.27 200.84 L912.46 195.99 L912.65 192.24 L912.84 189.52 L913.02 187.04 L913.21 183.69 L913.40 181.72 L913.59 182.89 L913.77 183.80 L913.96 181.20 L914.15 176.74 L914.34 172.88 L914.52 170.23 L914.71 165.48 L914.90 160.30 L915.10 162.73 L915.29 164.33 L915.49 165.58 L915.69 167.19 L915.88 169.88 L916.08 174.14 L916.28 179.22 L916.47 183.05 L916.67 184.69 L916.87 184.74 L917.06 184.53 L917.26 186.99 L917.46 194.03 L917.65 201.89 L917.85 205.26 L918.04 203.33 L918.24 199.54 L918.44 198.20 L918.63 201.29 L918.83 208.14 L919.03 215.70 L919.22 221.12 L919.42 224.04 L919.62 225.64 L919.81 226.87 L920.01 227.99 L920.21 230.48 L920.40 233.62 L920.60 237.00 L920.73 232.95 L920.86 229.44 L921.00 226.62 L921.13 223.25 L921.26 219.25 L921.39 215.13 L921.52 211.05 L921.65 206.62 L921.79 201.36 L921.92 195.49 L922.05 190.36 L922.18 187.10 L922.31 184.88 L922.45 182.39 L922.58 179.32 L922.71 175.60 L922.84 171.09 L922.97 166.07 L923.10 161.33 L923.24 157.72 L923.37 155.17 L923.50 152.60 L923.70 156.05 L923.89 161.25 L924.09 165.22 L924.28 168.10 L924.48 169.53 L924.67 168.64 L924.87 166.47 L925.06 166.32 L925.26 170.80 L925.45 178.49 L925.65 184.81 L925.84 187.65 L926.04 188.80 L926.23 190.59 L926.43 194.53 L926.62 200.07 L926.82 204.54 L927.01 206.48 L927.21 206.65 L927.40 207.75 L927.60 211.20 L927.79 205.51 L927.98 200.08 L928.17 200.16 L928.36 200.94 L928.55 200.11 L928.74 196.80 L928.93 192.80 L929.12 190.55 L929.31 189.87 L929.49 188.56 L929.68 185.65 L929.87 181.92 L930.06 178.22 L930.25 175.23 L930.44 172.64 L930.63 169.67 L930.82 166.82 L931.01 165.08 L931.20 163.00 L931.40 167.39 L931.59 173.32 L931.79 177.23 L931.98 178.63 L932.18 180.05 L932.37 182.15 L932.57 184.72 L932.77 187.87 L932.96 192.03 L933.16 196.29 L933.35 199.32 L933.55 200.42 L933.74 200.50 L933.94 202.05 L934.13 207.17 L934.33 215.29 L934.53 223.07 L934.72 227.64 L934.92 228.79 L935.11 228.24 L935.31 229.11 L935.50 233.53 L935.70 239.10 L935.90 233.96 L936.10 231.31 L936.30 230.49 L936.50 227.49 L936.70 221.83 L936.90 215.46 L937.10 209.97 L937.30 204.98 L937.50 199.41 L937.70 193.64 L937.90 188.35 L938.10 184.77 L938.30 184.22 L938.50 184.21 L938.70 181.79 L938.90 177.45 L939.10 173.13 L939.30 169.64 L939.50 166.42 L939.70 161.83 L939.90 156.48 L940.10 153.10 L940.29 154.96 L940.49 157.50 L940.68 162.16 L940.87 169.72 L941.06 177.98 L941.26 182.79 L941.45 184.10 L941.64 183.89 L941.84 184.61 L942.03 188.42 L942.22 193.59 L942.41 196.80 L942.61 198.49 L942.80 201.60 L943.00 198.82 L943.19 195.98 L943.39 194.80 L943.58 194.42 L943.78 193.84 L943.97 191.58 L944.17 187.07 L944.36 182.60 L944.56 181.34 L944.75 183.21 L944.95 185.24 L945.14 185.46 L945.34 183.13 L945.53 177.62 L945.73 171.11 L945.92 166.97 L946.12 165.83 L946.31 166.40 L946.51 166.94 L946.70 164.44 L946.90 160.30 L947.10 164.34 L947.29 166.93 L947.49 168.15 L947.68 170.08 L947.88 172.69 L948.07 174.66 L948.27 176.18 L948.47 178.79 L948.66 183.00 L948.86 187.45 L949.05 191.16 L949.25 193.69 L949.44 195.21 L949.64 197.25 L949.83 200.77 L950.03 204.29 L950.23 205.81 L950.42 205.51 L950.62 205.42 L950.81 207.36 L951.01 212.96 L951.20 219.27 L951.40 222.70 L951.60 221.23 L951.79 219.65 L951.99 216.12 L952.18 211.02 L952.38 205.87 L952.57 202.34 L952.77 200.67 L952.96 199.47 L953.16 197.15 L953.35 193.48 L953.55 190.06 L953.75 188.47 L953.94 187.91 L954.14 186.43 L954.33 183.95 L954.53 181.13 L954.72 177.69 L954.92 173.84 L955.11 169.93 L955.31 166.16 L955.50 163.71 L955.70 162.10 L955.90 164.37 L956.09 168.42 L956.29 170.92 L956.48 171.89 L956.68 172.54 L956.87 172.99 L957.07 172.98 L957.26 172.93 L957.46 174.51 L957.65 178.78 L957.85 183.97 L958.04 187.12 L958.24 187.41 L958.43 186.24 L958.63 185.35 L958.82 185.95 L959.02 188.29 L959.21 191.09 L959.41 192.77 L959.60 193.53 L959.80 194.80 L959.97 190.44 L960.15 188.97 L960.33 188.59 L960.50 188.90 L960.67 187.92 L960.85 184.43 L961.03 180.91 L961.20 179.40 L961.40 180.15 L961.59 181.40 L961.79 183.04 L961.98 184.75 L962.18 185.95 L962.37 186.09 L962.57 185.45 L962.76 185.62 L962.96 188.26 L963.15 192.66 L963.35 195.91 L963.54 196.34 L963.74 195.20 L963.93 194.67 L964.13 195.85 L964.32 198.56 L964.52 201.68 L964.71 204.20 L964.91 205.91 L965.10 206.75 L965.30 207.70 L965.50 205.18 L965.69 201.47 L965.89 199.58 L966.08 199.47 L966.28 199.31 L966.47 198.36 L966.67 197.03 L966.86 196.08 L967.06 195.07 L967.25 192.56 L967.45 188.41 L967.65 184.35 L967.84 181.85 L968.04 180.92 L968.23 180.52 L968.43 179.25 L968.62 176.52 L968.82 173.56 L969.01 172.19 L969.21 172.31 L969.40 171.28 L969.60 168.50 L969.80 171.28 L970.00 173.30 L970.20 173.60 L970.40 172.81 L970.60 173.05 L970.80 174.76 L971.00 177.15 L971.20 178.66 L971.40 178.56 L971.60 177.72 L971.80 177.99 L972.00 180.73 L972.20 185.58 L972.40 190.44 L972.60 192.77 L972.80 192.38 L973.00 191.37 L973.20 191.27 L973.40 191.92 L973.60 192.90 L973.80 194.21 L974.00 195.96 L974.20 198.07 L974.40 199.98 L974.60 200.91 L974.80 201.60 L974.99 199.88 L975.18 197.29 L975.37 195.60 L975.56 194.10 L975.75 192.82 L975.94 192.49 L976.13 193.24 L976.32 193.68 L976.51 191.98 L976.70 188.15 L976.89 184.21 L977.08 181.85 L977.27 180.84 L977.46 179.92 L977.65 178.12 L977.84 175.52 L978.03 173.09 L978.22 171.62 L978.41 171.05 L978.60 170.30 L978.80 172.51 L978.99 176.18 L979.19 178.58 L979.38 179.44 L979.58 179.64 L979.77 180.47 L979.97 182.99 L980.16 186.59 L980.36 189.42 L980.55 190.82 L980.75 192.00 L980.94 194.42 L981.14 198.31 L981.33 202.67 L981.53 206.16 L981.72 208.57 L981.92 210.60 L982.11 212.60 L982.31 214.06 L982.50 215.19 L982.70 217.00 L982.90 214.75 L983.09 212.11 L983.29 209.99 L983.49 209.74 L983.68 209.61 L983.88 209.05 L984.08 207.55 L984.27 204.71 L984.47 200.95 L984.67 197.67 L984.86 196.12 L985.06 196.44 L985.26 197.36 L985.45 196.73 L985.65 193.27 L985.84 187.81 L986.04 182.88 L986.24 180.28 L986.43 179.63 L986.63 179.33 L986.83 178.21 L987.02 176.13 L987.22 173.59 L987.42 171.20 L987.61 169.29 L987.81 167.94 L988.01 167.14 L988.20 166.37 L988.40 165.10 L988.59 166.57 L988.79 168.12 L988.98 169.28 L989.18 169.87 L989.37 170.16 L989.57 170.58 L989.76 170.95 L989.95 171.52 L990.15 172.85 L990.34 175.10 L990.54 177.69 L990.73 179.79 L990.93 181.08 L991.12 182.18 L991.31 184.19 L991.51 187.64 L991.70 191.49 L991.90 193.79 L992.09 193.72 L992.29 192.37 L992.48 191.61 L992.67 192.59 L992.87 195.49 L993.06 199.39 L993.26 202.69 L993.45 204.50 L993.65 205.18 L993.84 205.59 L994.03 206.25 L994.23 207.17 L994.42 208.22 L994.62 209.73 L994.81 211.17 L995.01 212.25 L995.20 212.90 L995.40 212.32 L995.59 211.47 L995.79 210.08 L995.99 208.19 L996.18 205.65 L996.38 202.82 L996.58 200.55 L996.77 199.43 L996.97 199.22 L997.16 198.73 L997.36 196.86 L997.56 193.77 L997.75 190.79 L997.95 188.86 L998.15 187.60 L998.34 185.83 L998.54 182.65 L998.74 178.24 L998.93 174.08 L999.13 171.57 L999.33 170.67 L999.52 170.30 L999.72 169.55 L999.91 168.33 L1000.11 167.01 L1000.31 165.47 L1000.50 164.20 L1000.70 163.30 L1000.90 163.89 L1001.10 164.67 L1001.30 165.89 L1001.50 167.40 L1001.70 169.24 L1001.90 171.60 L1002.10 174.21 L1002.30 176.18 L1002.50 176.77 L1002.70 176.28 L1002.90 176.37 L1003.10 178.60 L1003.30 182.69 L1003.50 186.75 L1003.70 189.36 L1003.90 190.61 L1004.10 191.42 L1004.30 192.50 L1004.50 193.79 L1004.70 194.91 L1004.90 195.63 L1005.10 196.10 L1005.30 195.47 L1005.50 194.10 L1005.70 192.75 L1005.90 192.06 L1006.10 192.13 L1006.30 191.96 L1006.50 190.35 L1006.70 187.43 L1006.90 184.81 L1007.10 183.67 L1007.30 183.39 L1007.50 182.75 L1007.70 181.40 L1007.90 179.84 L1008.10 178.62 L1008.30 177.62 L1008.50 177.10 L1008.69 177.30 L1008.88 177.68 L1009.07 178.05 L1009.26 178.15 L1009.45 178.26 L1009.64 179.05 L1009.83 180.89 L1010.02 183.23 L1010.21 184.97 L1010.40 185.32 L1010.60 184.68 L1010.79 184.25 L1010.98 184.75 L1011.17 185.78 L1011.36 186.60 L1011.55 186.99 L1011.74 187.27 L1011.93 187.77 L1012.12 188.46 L1012.31 188.99 L1012.50 189.20 L1012.68 189.39 L1012.86 189.85 L1013.05 189.82 L1013.23 188.96 L1013.41 188.22 L1013.59 188.58 L1013.77 189.70 L1013.95 190.40 L1014.14 190.28 L1014.32 190.02 L1014.50 190.00 L1014.69 190.11 L1014.89 190.18 L1015.08 190.50 L1015.28 191.03 L1015.47 191.42 L1015.67 191.44 L1015.86 191.56 L1016.06 192.74 L1016.25 195.23 L1016.44 197.83 L1016.64 199.00 L1016.83 198.51 L1017.03 197.49 L1017.22 197.15 L1017.42 197.73 L1017.61 198.69 L1017.81 199.63 L1018.00 200.00 L1018.19 199.66 L1018.38 199.04 L1018.58 198.10 L1018.77 197.19 L1018.96 196.54 L1019.15 195.97 L1019.35 194.96 L1019.54 193.13 L1019.73 190.70 L1019.92 188.50 L1020.12 187.24 L1020.31 186.74 L1020.50 186.03 L1020.69 184.40 L1020.88 182.05 L1021.08 179.69 L1021.27 177.88 L1021.46 176.64 L1021.65 175.55 L1021.85 174.28 L1022.04 172.97 L1022.23 171.97 L1022.42 171.43 L1022.62 170.91 L1022.81 170.24 L1023.00 169.60 L1023.20 170.08 L1023.39 170.53 L1023.59 170.76 L1023.79 170.87 L1023.98 171.31 L1024.18 172.40 L1024.37 173.97 L1024.57 175.49 L1024.77 176.57 L1024.96 177.42 L1025.16 178.63 L1025.36 180.50 L1025.55 182.59 L1025.75 183.99 L1025.94 184.29 L1026.14 184.13 L1026.34 184.53 L1026.53 185.84 L1026.73 187.63 L1026.93 189.20 L1027.12 190.18 L1027.32 190.72 L1027.51 191.22 L1027.71 191.83 L1027.91 192.41 L1028.10 192.82 L1028.30 193.10 L1028.47 192.99 L1028.65 193.21 L1028.83 193.27 L1029.00 193.65 L1029.17 194.61 L1029.35 195.25 L1029.53 195.09 L1029.70 194.90 L1029.90 194.71 L1030.10 193.59 L1030.30 191.92 L1030.50 191.69 L1030.70 192.98 L1030.90 193.98 L1031.10 194.06 L1031.30 194.10 L1031.50 193.99 L1031.69 193.80 L1031.89 193.52 L1032.09 193.23 L1032.29 192.91 L1032.48 192.38 L1032.68 191.61 L1032.88 190.87 L1033.07 190.53 L1033.27 190.63 L1033.47 190.70 L1033.67 190.08 L1033.86 188.65 L1034.06 186.99 L1034.26 185.95 L1034.45 185.83 L1034.65 186.23 L1034.85 186.34 L1035.05 185.66 L1035.24 184.39 L1035.44 183.28 L1035.64 182.78 L1035.83 182.63 L1036.03 182.22 L1036.23 181.26 L1036.43 179.96 L1036.62 178.86 L1036.82 178.30 L1037.02 178.20 L1037.21 178.21 L1037.41 178.08 L1037.61 177.82 L1037.81 177.55 L1038.00 177.31 L1038.20 177.10 L1038.39 177.37 L1038.58 177.69 L1038.78 177.98 L1038.97 178.20 L1039.16 178.37 L1039.35 178.69 L1039.55 179.52 L1039.74 180.86 L1039.93 182.28 L1040.12 183.16 L1040.32 183.26 L1040.51 183.04 L1040.70 183.32 L1040.89 184.60 L1041.08 186.50 L1041.28 188.16 L1041.47 189.01 L1041.66 189.23 L1041.85 189.36 L1042.05 189.77 L1042.24 190.39 L1042.43 190.98 L1042.62 191.40 L1042.82 191.70 L1043.01 191.94 L1043.20 192.10 L1043.39 191.76 L1043.59 191.22 L1043.79 190.82 L1043.98 190.47 L1044.17 189.76 L1044.37 188.40 L1044.57 186.66 L1044.76 185.13 L1044.95 184.07 L1045.15 183.10 L1045.35 181.72 L1045.54 179.96 L1045.73 178.32 L1045.93 177.21 L1046.12 176.52 L1046.32 175.84 L1046.51 175.00 L1046.71 174.23 L1046.90 173.75 L1047.10 173.50 L1047.29 173.75 L1047.49 174.21 L1047.68 174.88 L1047.87 175.59 L1048.07 176.24 L1048.26 176.72 L1048.45 177.19 L1048.64 177.95 L1048.84 179.14 L1049.03 180.53 L1049.22 181.70 L1049.42 182.51 L1049.61 183.33 L1049.80 184.70 L1050.00 186.82 L1050.19 189.28 L1050.38 191.27 L1050.58 192.31 L1050.77 192.63 L1050.96 192.89 L1051.16 193.58 L1051.35 194.66 L1051.54 195.82 L1051.73 196.76 L1051.93 197.47 L1052.12 198.06 L1052.31 198.55 L1052.51 198.90 L1052.70 199.10 L1052.90 198.83 L1053.09 198.34 L1053.29 197.70 L1053.48 196.87 L1053.68 195.96 L1053.87 195.27 L1054.07 194.87 L1054.26 194.40 L1054.46 193.25 L1054.65 191.29 L1054.85 189.05 L1055.05 187.23 L1055.24 186.12 L1055.44 185.39 L1055.63 184.58 L1055.83 183.55 L1056.02 182.52 L1056.22 181.74 L1056.41 181.21 L1056.61 180.76 L1056.80 180.36 L1057.00 180.10 L1057.18 180.25 L1057.37 180.23 L1057.55 179.88 L1057.74 179.60 L1057.92 179.83 L1058.11 180.48 L1058.29 180.97 L1058.48 181.01 L1058.66 180.90 L1058.85 180.97 L1059.03 181.19 L1059.22 181.27 L1059.40 181.20 L1059.60 181.24 L1059.80 181.19 L1060.00 180.91 L1060.20 180.63 L1060.40 180.81 L1060.60 181.36 L1060.80 181.61 L1061.00 181.11 L1061.20 180.29 L1061.40 179.86 L1061.60 179.92 L1061.80 180.08 L1062.00 180.10 L1062.20 180.29 L1062.39 180.67 L1062.59 181.19 L1062.78 181.84 L1062.98 182.75 L1063.17 183.93 L1063.37 185.16 L1063.57 186.06 L1063.76 186.56 L1063.96 187.01 L1064.15 187.97 L1064.35 189.62 L1064.54 191.58 L1064.74 193.28 L1064.93 194.45 L1065.13 195.29 L1065.33 196.13 L1065.52 197.08 L1065.72 197.99 L1065.91 198.67 L1066.11 199.11 L1066.30 199.41 L1066.50 199.60 L1066.69 199.38 L1066.88 198.99 L1067.07 198.56 L1067.26 198.03 L1067.44 197.19 L1067.63 195.83 L1067.82 194.15 L1068.01 192.63 L1068.20 191.66 L1068.39 191.12 L1068.58 190.54 L1068.77 189.63 L1068.96 188.49 L1069.14 187.43 L1069.33 186.64 L1069.52 186.08 L1069.71 185.69 L1069.90 185.50" stroke="#0072BD" stroke-width="2.80" fill="none" stroke-linejoin="round" stroke-linecap="round"/>
<path d="M252.71 26.14v11.00M252.71 346.83v-11.00M71.05 79.59h11.00M1161.00 79.59h-11.00M434.37 26.14v11.00M434.37 346.83v-11.00M71.05 133.04h11.00M1161.00 133.04h-11.00M616.02 26.14v11.00M616.02 346.83v-11.00M71.05 186.49h11.00M1161.00 186.49h-11.00M797.68 26.14v11.00M797.68 346.83v-11.00M71.05 239.93h11.00M1161.00 239.93h-11.00M979.34 26.14v11.00M979.34 346.83v-11.00M71.05 293.38h11.00M1161.00 293.38h-11.00" stroke="#767676" stroke-width="1.70" fill="none"/>
<rect x="71.05" y="26.14" width="1089.95" height="320.69" fill="none" stroke="#7d7d7d" stroke-width="1.70"/>
<g font-family="'Liberation Sans', Arial, Helvetica, sans-serif" fill="#303030" opacity="0.99">
<text transform="translate(71.35 371.70) scale(0.98 1.09)" font-size="20" text-anchor="middle">0</text>
<text transform="translate(253.01 371.70) scale(0.98 1.09)" font-size="20" text-anchor="middle">0.05</text>
<text transform="translate(434.67 371.70) scale(0.98 1.09)" font-size="20" text-anchor="middle">0.1</text>
<text transform="translate(616.32 371.70) scale(0.98 1.09)" font-size="20" text-anchor="middle">0.15</text>
<text transform="translate(797.98 371.70) scale(0.98 1.09)" font-size="20" text-anchor="middle">0.2</text>
<text transform="translate(979.64 371.70) scale(0.98 1.09)" font-size="20" text-anchor="middle">0.25</text>
<text transform="translate(1161.30 371.70) scale(0.98 1.09)" font-size="20" text-anchor="middle">0.3</text>
<text transform="translate(64.00 33.14) scale(0.98 1.09)" font-size="20" text-anchor="end">0.6</text>
<text transform="translate(64.00 86.59) scale(0.98 1.09)" font-size="20" text-anchor="end">0.4</text>
<text transform="translate(64.00 140.04) scale(0.98 1.09)" font-size="20" text-anchor="end">0.2</text>
<text transform="translate(64.00 193.49) scale(0.98 1.09)" font-size="20" text-anchor="end">0</text>
<text transform="translate(64.00 246.93) scale(0.98 1.09)" font-size="20" text-anchor="end">-0.2</text>
<text transform="translate(64.00 300.38) scale(0.98 1.09)" font-size="20" text-anchor="end">-0.4</text>
<text transform="translate(64.00 353.83) scale(0.98 1.09)" font-size="20" text-anchor="end">-0.6</text>
<text x="616.00" y="397.60" font-size="22" text-anchor="middle">Time (s)</text>
<text transform="translate(19.20 186.20) rotate(-90)" font-size="22" text-anchor="middle">Amplitude</text>
<text transform="translate(616.00 18.40) scale(1 1.05)" font-size="21.6" font-weight="bold" fill="#1c1c1c" text-anchor="middle">GEN-005-010-0003</text>
</g></svg>
</body></html>
